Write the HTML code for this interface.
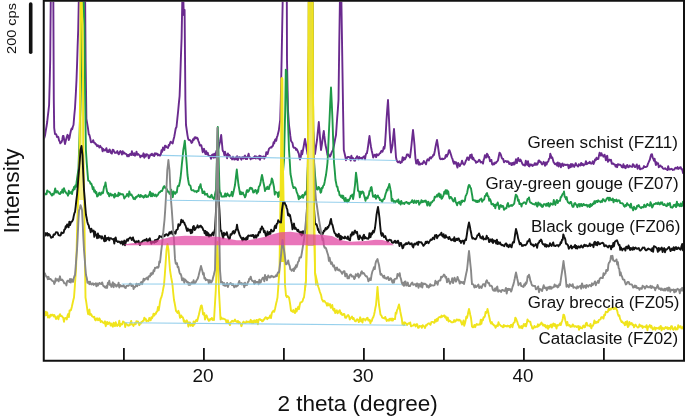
<!DOCTYPE html>
<html><head><meta charset="utf-8"><style>html,body{margin:0;padding:0;background:#fff;}svg{display:block;will-change:transform;}</style></head><body>
<svg width="685" height="416" viewBox="0 0 685 416">
<rect width="685" height="416" fill="#fff"/>
<defs><clipPath id="c"><rect x="44.7" y="1.8" width="638.3" height="358"/></clipPath></defs>
<g clip-path="url(#c)" fill="none" stroke-linejoin="round" stroke-linecap="round">
<polygon points="78,200 79.6,150 80.3,60 80.6,0 81.6,0 82.5,24 83,80 83.4,150 84.2,200" fill="#f6f08c" stroke="none"/>
<path d="M43.5,138.8 L44.2,138.3 L45.0,135.5 L45.7,131.0 L46.5,126.5 L47.2,122.0 L47.8,116.3 L48.5,110.7 L49.1,105.0 L49.7,82.5 L50.2,60.0 L50.8,-5.0 L51.4,-5.0 L52.0,-5.0 L52.7,-5.0 L53.3,-5.0 L53.8,100.0 L54.2,128.0 L55.0,134.1 L55.7,133.9 L56.3,134.5 L57.0,137.0 L57.7,136.6 L58.3,137.0 L59.0,140.3 L59.7,141.5 L60.3,143.4 L61.0,142.7 L61.6,142.0 L62.2,139.9 L62.9,135.9 L63.5,136.0 L64.2,140.0 L65.0,144.0 L65.6,141.5 L66.2,139.0 L66.9,136.5 L67.5,134.8 L68.2,135.8 L68.8,140.0 L69.5,138.0 L70.2,134.0 L71.0,130.3 L71.6,128.5 L72.2,129.2 L72.9,126.5 L73.5,125.0 L74.2,116.5 L75.0,108.0 L75.8,94.0 L76.5,80.0 L77.1,63.3 L77.6,46.7 L78.2,30.0 L78.9,-5.0 L79.7,-5.0 L80.5,-5.0 L81.2,-5.0 L82.0,-5.0 L82.8,-5.0 L83.5,-5.0 L84.3,-5.0 L85.1,-5.0 L85.6,60.0 L86.0,89.5 L86.4,119.0 L87.2,123.7 L88.0,128.3 L88.8,134.3 L89.5,135.2 L90.3,138.6 L91.0,142.4 L91.8,142.2 L92.5,141.7 L93.2,140.2 L94.0,142.6 L94.8,142.8 L95.6,144.3 L96.3,144.3 L97.1,146.2 L97.9,145.3 L98.7,146.3 L99.4,147.6 L100.2,145.8 L101.0,147.4 L101.8,147.6 L102.6,151.4 L103.3,148.9 L104.1,150.2 L104.9,150.5 L105.7,149.6 L106.4,148.2 L107.2,152.0 L108.0,150.4 L108.8,152.1 L109.6,149.4 L110.3,150.7 L111.1,153.2 L111.9,153.6 L112.7,149.8 L113.4,149.9 L114.2,151.8 L115.0,153.0 L115.8,152.4 L116.5,152.7 L117.3,151.1 L118.1,153.4 L118.8,154.3 L119.6,152.3 L120.4,151.1 L121.2,152.2 L121.9,154.5 L122.7,151.1 L123.5,153.6 L124.2,152.5 L125.0,153.8 L125.8,153.7 L126.5,154.2 L127.3,156.3 L128.1,154.9 L128.8,156.3 L129.6,154.3 L130.4,153.9 L131.2,155.1 L131.9,151.1 L132.7,154.7 L133.5,155.1 L134.2,153.2 L135.0,155.7 L135.8,154.3 L136.5,151.7 L137.3,154.9 L138.1,153.9 L138.8,154.7 L139.6,155.2 L140.4,157.3 L141.2,155.8 L141.9,155.7 L142.7,156.3 L143.5,153.3 L144.2,157.7 L145.0,154.5 L145.8,156.5 L146.5,154.3 L147.3,154.4 L148.1,155.1 L148.8,158.3 L149.6,156.5 L150.4,154.6 L151.2,155.0 L151.9,153.7 L152.7,155.2 L153.5,154.4 L154.2,156.1 L155.0,153.1 L155.7,154.4 L156.4,153.5 L157.1,153.6 L157.9,155.4 L158.6,154.5 L159.3,155.0 L160.0,155.7 L160.8,154.6 L161.5,150.1 L162.2,151.8 L163.0,147.5 L163.7,148.6 L164.3,150.0 L165.0,145.7 L165.8,146.0 L166.5,147.2 L167.2,147.5 L168.0,148.0 L168.7,144.9 L169.3,145.5 L170.0,143.2 L170.7,141.7 L171.3,142.4 L172.0,142.9 L172.7,143.4 L173.5,139.5 L174.2,137.0 L175.0,132.6 L175.7,128.5 L176.5,127.0 L177.3,119.2 L178.1,111.5 L178.8,103.8 L179.6,96.0 L180.3,76.7 L180.9,57.3 L181.6,38.0 L182.0,16.5 L182.4,-5.0 L183.2,-5.0 L183.8,15.0 L184.6,10.0 L185.0,55.0 L185.4,100.0 L186.0,125.0 L186.8,130.5 L187.5,135.3 L188.1,138.7 L188.8,139.9 L189.4,140.0 L190.0,140.2 L190.8,141.2 L191.5,142.9 L192.3,142.3 L193.0,139.2 L193.8,139.9 L194.6,137.4 L195.4,137.2 L196.1,138.5 L196.9,137.6 L197.7,138.4 L198.4,141.0 L199.1,142.7 L199.9,145.6 L200.6,145.2 L201.3,145.3 L202.0,148.4 L202.7,152.2 L203.3,149.9 L204.0,148.7 L204.7,151.5 L205.4,154.0 L206.2,151.1 L207.0,154.3 L207.8,152.9 L208.6,156.1 L209.4,156.0 L210.2,155.9 L211.0,158.8 L211.8,155.1 L212.6,154.4 L213.4,157.7 L214.2,153.6 L215.0,157.6 L215.8,153.3 L216.5,150.8 L217.2,151.1 L218.0,150.0 L218.7,147.3 L219.3,144.7 L220.0,142.0 L220.6,138.5 L221.2,135.0 L221.9,142.5 L222.6,150.2 L223.2,151.5 L223.8,152.2 L224.4,155.3 L225.0,151.8 L225.7,154.5 L226.4,155.2 L227.1,158.4 L227.9,153.4 L228.6,156.0 L229.3,155.1 L230.0,156.1 L230.7,158.0 L231.4,157.9 L232.1,159.4 L232.9,156.7 L233.6,158.1 L234.3,159.5 L235.0,159.3 L235.7,157.4 L236.4,159.3 L237.1,156.3 L237.9,160.0 L238.6,157.5 L239.3,157.0 L240.0,157.4 L240.7,158.3 L241.4,159.7 L242.1,157.2 L242.9,157.1 L243.6,158.5 L244.3,156.6 L245.0,155.6 L245.7,159.0 L246.4,157.2 L247.1,159.1 L247.9,156.0 L248.6,153.7 L249.3,157.5 L250.0,157.2 L250.7,159.4 L251.4,158.0 L252.1,157.9 L252.9,158.4 L253.6,157.2 L254.3,158.0 L255.0,156.1 L255.7,158.6 L256.4,156.6 L257.1,156.9 L257.9,158.4 L258.6,158.6 L259.3,155.7 L260.0,159.8 L260.7,156.0 L261.4,157.9 L262.1,157.9 L262.9,156.7 L263.6,156.5 L264.3,158.7 L265.0,157.2 L265.7,156.0 L266.3,152.1 L267.0,153.0 L267.6,154.1 L268.3,151.3 L269.1,148.6 L269.9,147.9 L270.7,147.3 L271.5,147.6 L272.3,146.1 L272.9,145.8 L273.6,142.2 L274.2,143.5 L274.9,140.3 L275.5,139.3 L276.2,140.8 L276.9,137.2 L277.5,135.8 L278.1,133.2 L278.8,130.5 L279.5,125.2 L280.2,120.0 L280.8,100.0 L281.2,80.0 L281.6,60.0 L282.2,27.5 L282.8,-5.0 L283.6,-5.0 L284.4,-5.0 L285.2,-5.0 L286.0,-5.0 L286.8,-5.0 L287.0,60.0 L287.5,85.0 L288.0,110.0 L288.5,117.5 L289.0,125.0 L289.7,130.3 L290.3,135.7 L291.0,140.8 L291.8,142.0 L292.5,143.0 L293.2,146.9 L294.0,147.9 L294.7,147.8 L295.4,147.9 L296.1,149.9 L296.8,149.1 L297.5,150.6 L298.1,152.3 L298.8,153.6 L299.4,157.6 L300.0,159.5 L300.8,157.1 L301.5,150.8 L302.2,154.3 L303.0,150.0 L303.7,146.3 L304.3,142.7 L305.0,139.0 L305.6,142.8 L306.2,146.5 L306.9,150.2 L307.5,154.0 L307.9,142.0 L308.3,130.0 L308.8,62.5 L309.3,-5.0 L310.0,-5.0 L310.8,-5.0 L311.5,-5.0 L312.2,-5.0 L312.6,62.5 L313.0,130.0 L313.7,138.0 L314.3,146.0 L315.0,154.0 L315.7,149.3 L316.3,144.7 L317.0,140.0 L317.6,134.0 L318.2,128.0 L318.8,122.0 L319.5,131.0 L320.2,140.0 L320.6,145.0 L321.0,150.0 L321.8,145.0 L322.5,140.0 L323.1,135.5 L323.8,131.0 L324.3,135.7 L324.9,140.3 L325.5,145.0 L326.2,148.0 L326.8,151.0 L327.5,155.0 L328.1,153.6 L328.8,154.5 L329.4,156.3 L330.0,156.6 L330.8,154.9 L331.5,152.7 L332.2,151.3 L333.0,150.0 L333.8,146.2 L334.5,142.5 L335.2,138.8 L336.0,135.0 L336.6,126.2 L337.2,117.5 L337.9,108.8 L338.5,100.0 L339.2,47.5 L340.0,-5.0 L340.6,-5.0 L341.3,-5.0 L341.9,33.8 L342.5,72.5 L343.1,111.2 L343.8,150.0 L344.5,153.0 L345.2,156.0 L346.0,160.2 L346.8,158.5 L347.6,156.9 L348.4,156.9 L349.2,157.2 L350.0,157.5 L350.7,160.5 L351.4,155.7 L352.1,158.5 L352.9,158.0 L353.6,158.8 L354.3,160.6 L355.0,160.7 L355.7,158.5 L356.4,157.6 L357.1,156.2 L357.9,157.8 L358.6,159.3 L359.3,156.9 L360.0,158.0 L360.7,158.1 L361.4,157.8 L362.1,158.9 L362.9,157.4 L363.6,156.6 L364.3,156.2 L365.0,159.3 L365.6,155.5 L366.2,153.6 L366.9,153.2 L367.5,150.0 L368.2,145.3 L368.8,140.7 L369.5,136.0 L370.2,141.5 L371.0,147.0 L371.8,151.0 L372.5,153.9 L373.2,157.6 L373.9,156.2 L374.6,154.7 L375.4,154.7 L376.1,157.2 L376.8,154.2 L377.5,155.1 L378.2,155.2 L378.9,154.6 L379.6,153.4 L380.4,153.1 L381.1,151.2 L381.8,150.7 L382.5,151.8 L383.1,149.7 L383.8,146.9 L384.4,148.7 L385.0,145.0 L385.8,132.5 L386.5,120.0 L387.2,110.0 L388.0,100.0 L388.8,115.0 L389.5,130.0 L390.2,141.2 L391.0,152.5 L391.8,148.8 L392.5,145.0 L393.2,137.0 L394.0,129.0 L394.8,139.5 L395.5,150.0 L396.0,157.2 L396.7,160.5 L397.4,161.6 L398.1,162.4 L398.9,161.6 L399.6,161.2 L400.3,163.0 L401.0,162.2 L401.8,162.3 L402.6,157.1 L403.4,160.3 L404.2,157.8 L405.0,159.3 L405.6,158.0 L406.2,157.0 L406.9,154.4 L407.5,154.6 L408.1,154.4 L408.8,156.1 L409.4,156.4 L410.0,157.5 L410.8,151.2 L411.5,145.0 L412.2,137.5 L413.0,130.0 L413.8,137.5 L414.5,145.0 L415.0,152.5 L415.5,158.8 L416.2,163.6 L417.0,162.7 L417.8,159.6 L418.5,164.6 L419.2,162.2 L420.0,164.7 L420.8,163.8 L421.5,163.5 L422.2,164.1 L423.0,162.9 L423.8,161.0 L424.5,162.6 L425.2,162.7 L426.0,164.3 L426.8,160.8 L427.5,159.3 L428.2,159.8 L428.9,160.6 L429.7,157.8 L430.4,157.3 L431.1,158.4 L431.8,157.0 L432.6,156.6 L433.3,154.8 L434.0,155.0 L434.8,151.0 L435.5,147.0 L436.2,143.5 L437.0,140.0 L437.8,145.0 L438.5,150.0 L439.2,155.0 L440.0,158.8 L440.7,159.2 L441.4,159.1 L442.1,158.5 L442.9,159.2 L443.6,159.0 L444.3,158.6 L445.0,158.2 L445.6,155.6 L446.2,154.7 L446.9,156.7 L447.5,155.0 L448.2,153.7 L448.8,150.4 L449.5,150.2 L450.2,152.4 L451.0,154.8 L451.8,157.6 L452.5,158.9 L453.2,161.7 L453.9,163.8 L454.6,161.7 L455.4,163.4 L456.1,162.3 L456.8,165.4 L457.5,167.6 L458.2,163.0 L459.0,164.2 L459.8,166.2 L460.5,164.5 L461.2,163.9 L462.0,160.6 L462.8,163.0 L463.5,164.3 L464.2,164.8 L465.0,163.4 L465.8,160.9 L466.5,159.9 L467.2,157.5 L468.0,157.7 L468.8,160.0 L469.5,157.5 L470.2,154.9 L471.0,157.8 L471.7,154.4 L472.4,159.2 L473.2,157.7 L473.9,159.4 L474.6,160.6 L475.3,160.7 L476.1,162.8 L476.8,161.8 L477.5,162.0 L478.3,161.2 L479.1,159.8 L479.9,160.5 L480.6,162.4 L481.4,161.9 L482.2,162.3 L483.0,163.6 L483.6,160.0 L484.2,158.7 L484.9,155.2 L485.5,155.7 L486.2,157.6 L487.0,153.7 L487.8,154.8 L488.5,157.4 L489.2,157.1 L490.0,161.3 L490.7,160.9 L491.4,159.9 L492.1,164.2 L492.9,164.7 L493.6,163.3 L494.3,164.3 L495.0,162.6 L495.8,163.1 L496.5,162.1 L497.2,161.6 L498.0,160.2 L498.8,156.2 L499.5,152.8 L500.2,153.3 L501.0,155.2 L501.8,157.9 L502.5,158.8 L503.2,159.0 L504.0,162.3 L504.8,161.4 L505.5,161.0 L506.2,161.2 L507.0,162.1 L507.8,161.2 L508.5,161.6 L509.2,164.0 L510.0,163.2 L510.8,163.3 L511.5,165.1 L512.2,162.9 L513.0,164.7 L513.8,162.5 L514.5,164.4 L515.2,162.6 L516.0,159.2 L516.8,163.1 L517.5,160.8 L518.2,158.0 L519.0,160.7 L519.8,161.2 L520.5,159.6 L521.2,161.0 L522.0,163.0 L522.8,164.7 L523.5,164.7 L524.2,165.3 L525.0,165.6 L525.8,160.7 L526.5,163.4 L527.2,164.9 L528.0,161.2 L528.8,166.1 L529.5,166.4 L530.2,164.3 L531.0,165.1 L531.8,164.5 L532.5,166.0 L533.2,165.4 L534.0,165.0 L534.8,163.2 L535.5,164.8 L536.2,163.4 L537.0,164.8 L537.8,163.6 L538.5,160.7 L539.2,160.4 L540.0,162.1 L540.7,161.7 L541.4,163.5 L542.1,164.4 L542.9,163.7 L543.6,161.8 L544.3,162.9 L545.0,165.8 L545.8,162.5 L546.6,164.6 L547.4,161.9 L548.2,161.7 L549.0,158.8 L549.7,158.5 L550.3,153.7 L551.0,155.7 L551.7,158.1 L552.3,157.4 L553.0,160.0 L553.5,162.0 L554.0,162.8 L554.8,164.1 L555.5,164.4 L556.3,163.3 L557.1,165.6 L557.8,162.5 L558.6,166.5 L559.4,163.1 L560.2,164.1 L560.9,167.2 L561.7,164.1 L562.5,163.4 L563.2,166.0 L564.0,164.7 L564.8,164.4 L565.6,165.0 L566.3,165.0 L567.1,164.6 L567.9,164.6 L568.7,168.3 L569.5,165.1 L570.2,167.4 L571.0,164.0 L571.8,166.8 L572.6,164.2 L573.4,165.4 L574.2,166.9 L574.9,165.3 L575.7,163.2 L576.5,165.2 L577.3,165.7 L578.1,166.6 L578.8,164.2 L579.6,165.1 L580.4,165.5 L581.2,162.9 L582.0,165.0 L582.8,163.8 L583.5,165.5 L584.3,164.6 L585.1,164.4 L585.9,161.1 L586.7,164.2 L587.4,163.7 L588.2,162.8 L589.0,163.3 L589.8,161.8 L590.5,163.4 L591.2,163.7 L592.0,163.2 L592.8,161.3 L593.5,164.0 L594.2,162.4 L595.0,159.5 L595.8,160.2 L596.5,157.7 L597.1,158.8 L597.8,159.0 L598.4,158.8 L599.0,155.4 L599.6,152.7 L600.2,154.3 L600.9,155.7 L601.5,153.2 L602.1,155.3 L602.8,155.2 L603.4,156.7 L604.0,155.8 L604.6,154.7 L605.2,156.9 L605.9,160.4 L606.5,156.8 L607.2,155.7 L608.0,161.9 L608.8,160.3 L609.5,159.6 L610.2,160.4 L611.0,159.8 L611.8,163.7 L612.5,163.7 L613.2,163.4 L614.0,164.4 L614.8,164.5 L615.6,166.6 L616.3,164.9 L617.1,167.2 L617.9,164.1 L618.7,164.5 L619.5,164.8 L620.2,164.7 L621.0,165.4 L621.8,167.1 L622.6,167.4 L623.4,164.2 L624.2,167.6 L624.9,166.0 L625.7,168.2 L626.5,165.8 L627.3,164.9 L628.1,167.2 L628.9,167.1 L629.7,165.6 L630.5,166.4 L631.3,166.6 L632.1,166.9 L632.9,164.1 L633.7,164.9 L634.5,166.8 L635.2,167.1 L636.0,166.1 L636.8,164.4 L637.6,168.8 L638.4,166.6 L639.2,165.6 L640.0,169.4 L640.8,168.8 L641.6,168.7 L642.4,168.5 L643.2,168.2 L644.0,166.1 L644.8,167.0 L645.6,167.0 L646.4,166.9 L647.2,166.2 L648.0,163.6 L648.6,162.4 L649.2,161.0 L649.9,159.5 L650.5,156.8 L651.2,154.4 L652.0,154.3 L652.7,157.8 L653.3,158.7 L654.0,160.8 L654.6,158.6 L655.2,161.9 L655.9,165.0 L656.5,162.3 L657.3,163.7 L658.1,163.2 L658.8,167.4 L659.6,166.0 L660.4,165.4 L661.2,166.7 L662.0,166.6 L662.8,168.3 L663.5,168.9 L664.3,168.8 L665.1,168.2 L665.9,169.1 L666.7,169.4 L667.4,170.1 L668.2,166.2 L669.0,169.5 L669.8,169.2 L670.6,169.3 L671.3,168.8 L672.1,169.1 L672.9,170.0 L673.7,169.6 L674.4,169.6 L675.2,167.9 L676.0,167.7 L676.8,168.5 L677.6,167.1 L678.3,168.9 L679.1,168.5 L679.9,167.3 L680.7,167.1 L681.4,169.2 L682.2,169.1 L683.0,173.0" stroke="#6a2a8e" stroke-width="1.9"/>
<path d="M43.5,198.3 L44.2,193.6 L45.0,194.6 L45.8,193.7 L46.5,194.2 L47.2,190.5 L48.0,191.4 L48.8,191.7 L49.6,192.1 L50.4,193.2 L51.2,194.5 L52.0,195.6 L52.8,193.7 L53.6,194.6 L54.4,192.2 L55.2,188.4 L56.0,192.7 L56.8,191.1 L57.6,191.2 L58.4,193.2 L59.2,193.7 L60.0,194.1 L60.8,192.0 L61.6,192.7 L62.4,189.4 L63.2,192.8 L64.0,188.2 L64.8,190.7 L65.6,192.0 L66.4,193.3 L67.2,193.7 L68.0,195.7 L68.8,190.8 L69.6,193.5 L70.4,192.8 L71.2,191.8 L72.0,194.0 L72.7,189.8 L73.3,190.4 L74.0,187.0 L74.7,189.2 L75.3,185.5 L76.0,187.0 L76.6,182.2 L77.2,177.5 L77.9,172.8 L78.5,168.0 L79.1,148.7 L79.7,129.3 L80.3,110.0 L80.9,83.3 L81.4,56.7 L82.0,30.0 L82.6,-5.0 L83.1,-5.0 L83.6,-5.0 L84.3,24.0 L84.8,62.0 L85.2,100.0 L85.9,150.0 L86.7,162.5 L87.5,172.6 L88.2,180.6 L89.0,180.8 L89.8,181.7 L90.5,183.8 L91.2,183.4 L92.0,185.8 L92.8,189.3 L93.5,187.1 L94.2,191.8 L95.0,190.4 L95.7,193.4 L96.4,192.1 L97.1,196.6 L97.9,196.0 L98.6,194.2 L99.3,192.7 L100.0,194.7 L100.8,194.7 L101.5,192.4 L102.2,193.2 L103.0,193.2 L103.6,189.4 L104.2,186.4 L104.9,185.8 L105.5,182.5 L106.2,187.2 L107.0,191.4 L107.8,193.8 L108.5,192.9 L109.2,196.4 L110.0,194.4 L110.7,193.6 L111.4,195.5 L112.1,194.8 L112.9,194.6 L113.6,196.1 L114.3,197.6 L115.0,193.7 L115.7,196.3 L116.4,195.7 L117.1,195.3 L117.9,196.2 L118.6,192.8 L119.3,195.2 L120.0,193.5 L120.7,194.3 L121.4,194.1 L122.1,194.2 L122.9,194.2 L123.6,195.8 L124.3,198.5 L125.0,197.3 L125.7,196.6 L126.4,195.8 L127.1,193.9 L127.9,195.0 L128.6,196.7 L129.3,191.5 L130.0,194.0 L130.7,194.9 L131.4,194.4 L132.1,195.7 L132.9,197.1 L133.6,198.9 L134.3,198.2 L135.0,199.2 L135.7,197.1 L136.4,197.5 L137.1,196.3 L137.9,196.2 L138.6,194.8 L139.3,196.2 L140.0,197.0 L140.7,195.0 L141.4,195.8 L142.1,196.7 L142.9,196.1 L143.6,197.7 L144.3,197.0 L145.0,195.3 L145.7,195.0 L146.4,197.1 L147.1,196.5 L147.9,196.8 L148.6,195.2 L149.3,194.7 L150.0,191.7 L150.7,196.2 L151.4,193.2 L152.1,196.3 L152.9,193.5 L153.6,194.4 L154.3,195.9 L155.0,195.4 L155.7,194.5 L156.4,196.4 L157.1,195.6 L157.9,194.8 L158.6,193.3 L159.3,192.2 L160.0,192.3 L160.7,191.2 L161.4,190.9 L162.1,191.0 L162.9,188.7 L163.6,186.9 L164.3,186.1 L165.0,187.8 L165.8,187.5 L166.5,188.8 L167.2,190.1 L168.0,191.8 L168.8,191.8 L169.6,193.8 L170.4,193.9 L171.2,189.8 L172.0,193.8 L172.8,197.2 L173.6,191.4 L174.4,193.0 L175.2,193.9 L176.0,192.0 L176.8,192.4 L177.5,187.2 L178.2,185.7 L179.0,186.0 L179.8,182.0 L180.5,178.0 L181.2,171.5 L181.8,165.0 L182.6,157.5 L183.3,150.0 L184.1,145.3 L184.8,140.6 L185.4,147.8 L186.0,155.0 L186.8,165.0 L187.5,175.0 L188.2,180.0 L189.0,184.7 L189.8,185.2 L190.5,186.0 L191.2,189.5 L192.0,190.4 L192.8,190.4 L193.6,190.2 L194.4,191.6 L195.2,191.4 L196.0,191.0 L196.6,192.2 L197.2,191.5 L197.9,190.6 L198.5,191.0 L199.2,186.7 L199.9,186.3 L200.6,184.1 L201.2,188.4 L201.9,189.0 L202.5,193.0 L203.1,193.2 L203.8,191.5 L204.4,191.5 L205.0,194.7 L205.7,194.0 L206.4,194.6 L207.1,193.8 L207.9,196.6 L208.6,196.4 L209.3,197.1 L210.0,197.4 L210.8,196.1 L211.6,194.7 L212.4,197.8 L213.2,197.7 L214.0,199.0 L214.7,196.0 L215.3,193.0 L216.0,190.0 L216.6,169.0 L217.2,148.0 L217.8,127.0 L218.4,148.0 L218.9,169.0 L219.5,189.3 L220.1,192.8 L220.8,192.9 L221.4,196.6 L222.0,196.3 L222.8,196.8 L223.6,196.3 L224.4,196.5 L225.2,193.4 L226.0,196.5 L226.7,195.0 L227.4,193.4 L228.2,195.5 L228.9,195.0 L229.6,196.2 L230.3,195.4 L231.1,194.7 L231.8,191.8 L232.5,196.3 L233.1,193.8 L233.8,190.6 L234.4,187.9 L235.0,185.0 L235.6,179.8 L236.2,174.7 L236.8,169.5 L237.3,174.7 L237.9,179.8 L238.5,185.0 L239.2,188.8 L240.0,194.2 L240.7,191.6 L241.4,194.2 L242.1,193.6 L242.9,192.5 L243.6,194.8 L244.3,195.1 L245.0,197.4 L245.8,195.6 L246.5,191.3 L247.2,190.0 L248.0,191.9 L248.8,191.0 L249.5,189.2 L250.2,187.7 L251.0,188.7 L251.8,188.1 L252.5,189.5 L253.2,192.5 L254.0,192.3 L254.7,190.7 L255.4,190.0 L256.1,191.1 L256.8,193.6 L257.5,190.3 L258.1,191.9 L258.8,186.9 L259.4,186.2 L260.0,185.0 L260.7,181.7 L261.3,178.3 L262.0,175.0 L262.7,178.3 L263.3,181.7 L264.0,185.0 L264.5,187.5 L265.0,191.0 L265.8,188.4 L266.6,189.1 L267.4,186.6 L268.2,188.9 L269.0,189.1 L269.7,185.1 L270.4,184.8 L271.1,182.4 L271.8,178.5 L272.5,180.0 L273.3,183.7 L274.0,187.3 L274.8,194.6 L275.4,191.9 L276.0,192.2 L276.7,192.5 L277.4,193.1 L278.2,197.1 L278.9,192.2 L279.6,195.7 L280.4,192.1 L281.2,188.6 L282.0,185.0 L282.7,176.7 L283.3,168.3 L284.0,160.0 L284.6,135.0 L285.2,110.0 L285.8,69.6 L286.2,70.4 L286.6,72.0 L287.1,91.0 L287.6,110.0 L288.3,130.0 L289.0,150.0 L289.8,162.0 L290.5,174.0 L291.3,178.0 L292.0,182.0 L292.8,185.7 L293.6,188.1 L294.4,187.2 L295.1,187.4 L295.9,188.8 L296.7,192.1 L297.5,193.8 L298.1,195.9 L298.8,199.2 L299.5,196.1 L300.3,198.0 L301.0,197.4 L301.8,196.0 L302.5,194.9 L303.1,197.7 L303.6,196.0 L304.4,194.9 L305.2,192.3 L306.0,194.4 L306.5,190.9 L307.0,190.0 L307.6,175.0 L308.2,160.0 L308.8,77.5 L309.3,-5.0 L310.0,-5.0 L310.8,-5.0 L311.5,-5.0 L312.2,-5.0 L312.6,72.5 L313.0,150.0 L313.8,159.0 L314.5,168.0 L315.2,177.0 L316.0,185.3 L316.5,187.5 L317.0,189.4 L317.8,189.6 L318.5,187.0 L319.2,187.5 L320.0,189.0 L320.5,192.7 L321.2,192.1 L321.9,187.8 L322.6,188.0 L323.3,185.6 L324.0,185.0 L324.7,181.7 L325.3,178.3 L326.0,175.0 L326.8,168.8 L327.5,162.5 L328.2,148.3 L328.8,134.2 L329.5,120.0 L330.2,103.8 L331.0,87.5 L331.8,103.8 L332.5,120.0 L333.2,141.2 L334.0,162.5 L334.8,171.2 L335.5,180.0 L336.2,183.3 L336.8,186.7 L337.5,186.8 L338.2,191.0 L338.9,191.3 L339.6,195.4 L340.3,195.3 L341.0,196.9 L341.8,195.4 L342.5,198.2 L343.2,195.8 L344.0,199.3 L344.8,201.3 L345.6,197.9 L346.4,201.2 L347.2,202.3 L347.9,199.7 L348.6,201.1 L349.4,199.3 L350.1,198.2 L350.8,195.7 L351.6,196.1 L352.3,194.6 L353.1,199.1 L353.8,194.9 L354.4,189.9 L355.0,185.0 L355.5,178.8 L356.0,172.6 L356.5,176.3 L357.0,180.0 L357.5,185.0 L358.0,190.4 L358.6,191.4 L359.2,191.4 L359.8,197.3 L360.6,191.6 L361.4,193.7 L362.2,191.5 L362.8,191.7 L363.4,192.3 L364.0,194.9 L364.8,197.9 L365.5,200.9 L366.2,197.5 L366.9,198.6 L367.6,198.4 L368.2,195.9 L368.9,194.8 L369.5,191.0 L370.2,191.0 L370.8,187.6 L371.5,187.0 L372.2,191.4 L373.0,196.7 L373.7,196.1 L374.5,196.9 L375.2,195.0 L376.0,198.7 L376.6,196.9 L377.2,195.9 L377.9,195.5 L378.5,197.5 L379.2,197.6 L380.0,200.1 L380.8,199.7 L381.5,200.9 L382.2,202.0 L382.9,200.0 L383.6,199.0 L384.3,199.0 L385.0,196.2 L385.7,193.5 L386.3,192.1 L386.9,189.4 L387.5,190.5 L388.1,187.4 L388.7,186.7 L389.3,184.0 L389.9,186.7 L390.4,189.3 L391.0,192.0 L391.7,200.9 L392.4,198.8 L393.1,200.5 L393.9,202.3 L394.6,201.0 L395.3,202.4 L396.1,201.1 L396.8,200.4 L397.5,201.7 L398.3,199.5 L399.0,203.3 L399.8,201.7 L400.6,204.5 L401.3,201.0 L402.1,203.1 L402.9,203.6 L403.7,202.9 L404.4,203.9 L405.2,202.5 L406.0,202.2 L406.7,201.9 L407.5,203.2 L408.3,202.7 L409.1,204.0 L409.8,202.9 L410.6,202.3 L411.4,202.0 L412.2,200.2 L413.0,202.2 L413.8,203.1 L414.5,200.4 L415.3,201.8 L416.1,202.9 L416.9,200.8 L417.7,201.8 L418.4,200.8 L419.2,204.7 L420.0,203.0 L420.7,202.8 L421.4,200.2 L422.2,202.2 L422.9,201.1 L423.6,201.9 L424.4,200.7 L425.1,201.8 L425.8,200.6 L426.6,202.8 L427.3,205.5 L428.1,201.7 L428.8,202.5 L429.6,205.7 L430.3,205.1 L431.1,202.3 L431.8,202.6 L432.5,201.4 L433.2,200.5 L433.9,200.6 L434.7,196.6 L435.4,197.4 L436.2,196.6 L436.9,195.1 L437.7,196.6 L438.4,193.9 L439.2,193.4 L440.0,197.3 L440.7,194.5 L441.5,198.8 L442.2,198.2 L443.0,196.3 L443.7,194.6 L444.3,191.6 L445.0,193.6 L445.6,190.3 L446.3,193.7 L446.9,190.2 L447.6,193.8 L448.2,191.3 L448.8,195.5 L449.6,198.6 L450.4,196.9 L451.1,197.1 L451.9,198.4 L452.7,200.3 L453.4,201.4 L454.1,200.2 L454.9,198.0 L455.6,201.7 L456.3,203.0 L457.1,205.3 L457.8,202.6 L458.5,202.9 L459.2,201.8 L459.9,203.5 L460.6,204.8 L461.4,200.8 L462.1,202.2 L462.8,200.5 L463.5,200.8 L464.2,201.4 L464.9,200.2 L465.6,196.1 L466.4,194.7 L467.1,193.0 L467.7,189.7 L468.4,186.3 L469.0,184.9 L469.7,185.5 L470.3,187.5 L471.0,188.3 L471.6,192.1 L472.3,196.0 L472.9,200.4 L473.6,199.7 L474.3,200.7 L475.0,201.0 L475.6,200.4 L476.3,202.0 L477.0,200.7 L477.7,202.1 L478.4,200.7 L479.1,201.6 L479.9,199.5 L480.6,199.5 L481.3,198.5 L482.1,201.8 L482.8,200.6 L483.5,200.1 L484.2,199.4 L484.9,196.0 L485.6,196.0 L486.3,193.9 L487.0,193.0 L487.8,196.3 L488.5,196.5 L489.2,200.8 L490.0,199.1 L490.7,200.6 L491.5,204.3 L492.2,204.2 L493.0,203.7 L493.8,206.0 L494.6,204.7 L495.3,208.3 L496.1,204.4 L496.9,205.0 L497.7,202.5 L498.5,205.3 L499.2,209.0 L500.0,206.2 L500.8,205.1 L501.6,206.8 L502.4,205.9 L503.2,206.2 L504.0,209.8 L504.8,209.0 L505.6,208.3 L506.4,208.4 L507.2,204.6 L508.0,203.0 L508.8,206.8 L509.6,206.2 L510.4,205.7 L511.2,205.0 L511.9,205.9 L512.7,205.3 L513.4,204.4 L514.2,203.7 L515.0,198.8 L515.8,194.7 L516.5,195.3 L517.3,196.7 L518.0,200.8 L518.7,199.7 L519.4,204.1 L520.1,203.4 L520.8,203.8 L521.5,206.6 L522.2,203.6 L523.0,203.4 L523.8,202.5 L524.5,202.3 L525.2,202.6 L526.0,204.0 L526.8,201.5 L527.5,199.0 L528.2,199.1 L529.0,197.4 L529.8,201.8 L530.5,202.8 L531.2,202.7 L532.0,203.5 L532.8,204.0 L533.6,204.1 L534.3,204.6 L535.1,204.2 L535.9,202.7 L536.7,205.7 L537.4,206.5 L538.2,202.4 L539.0,204.7 L539.8,203.4 L540.6,205.7 L541.3,204.6 L542.1,207.0 L542.9,206.6 L543.7,204.3 L544.5,204.3 L545.2,204.2 L546.0,205.8 L546.8,203.7 L547.6,205.6 L548.4,203.0 L549.2,206.5 L549.9,205.7 L550.7,203.3 L551.5,203.9 L552.3,204.7 L553.0,204.5 L553.8,200.0 L554.6,203.5 L555.4,204.9 L556.1,201.6 L556.9,199.9 L557.7,203.1 L558.5,201.2 L559.2,200.7 L560.0,200.9 L560.7,197.2 L561.3,197.0 L562.0,195.4 L562.7,194.0 L563.3,193.9 L564.0,191.5 L564.7,197.0 L565.3,197.0 L566.0,199.2 L566.7,197.1 L567.3,200.7 L568.0,202.3 L568.8,202.9 L569.6,203.5 L570.4,201.9 L571.1,201.9 L571.9,204.8 L572.7,206.8 L573.5,206.7 L574.3,203.5 L575.1,203.0 L575.9,204.5 L576.6,205.1 L577.4,207.2 L578.2,204.5 L579.0,203.9 L579.8,206.6 L580.5,204.1 L581.3,204.0 L582.1,206.1 L582.8,205.1 L583.6,203.9 L584.4,205.2 L585.2,205.0 L585.9,205.4 L586.7,204.7 L587.5,206.7 L588.2,205.4 L589.0,205.1 L589.8,207.1 L590.5,203.9 L591.3,205.9 L592.1,205.3 L592.8,203.6 L593.6,204.0 L594.4,201.2 L595.2,203.3 L595.9,201.1 L596.7,200.9 L597.5,202.1 L598.2,200.3 L599.0,201.2 L599.8,201.4 L600.5,202.2 L601.3,201.1 L602.1,201.9 L602.8,199.2 L603.6,199.5 L604.4,200.8 L605.2,201.4 L605.9,200.2 L606.7,198.7 L607.5,197.8 L608.2,197.8 L609.0,200.6 L609.8,197.7 L610.5,198.9 L611.2,200.2 L612.0,200.0 L612.8,198.5 L613.5,202.4 L614.2,199.9 L615.0,200.2 L615.8,201.0 L616.5,199.5 L617.2,201.5 L618.0,200.8 L618.8,200.2 L619.5,200.6 L620.2,203.0 L621.0,203.1 L621.8,203.3 L622.5,203.3 L623.2,204.1 L624.0,206.1 L624.8,206.7 L625.5,205.0 L626.3,205.9 L627.1,203.1 L627.8,204.3 L628.6,205.2 L629.4,205.1 L630.2,207.5 L630.9,203.8 L631.7,207.6 L632.5,208.1 L633.2,210.4 L634.0,206.8 L634.8,208.0 L635.6,209.3 L636.4,208.4 L637.2,205.6 L637.9,206.3 L638.7,205.1 L639.5,206.7 L640.3,207.4 L641.1,208.2 L641.9,207.0 L642.7,207.3 L643.5,207.4 L644.3,204.6 L645.1,206.6 L645.8,206.9 L646.6,205.1 L647.4,203.9 L648.2,205.3 L649.0,205.2 L649.8,205.9 L650.5,202.3 L651.3,204.2 L652.1,207.5 L652.8,206.4 L653.6,204.3 L654.4,204.0 L655.2,204.0 L655.9,202.9 L656.7,203.6 L657.5,204.1 L658.2,202.4 L659.0,203.9 L659.8,204.5 L660.6,202.4 L661.3,203.7 L662.1,202.3 L662.9,204.7 L663.7,205.1 L664.5,204.1 L665.2,205.1 L666.0,205.9 L666.8,206.2 L667.6,203.5 L668.4,205.0 L669.2,203.6 L669.9,203.1 L670.7,207.3 L671.5,207.1 L672.3,207.7 L673.0,206.8 L673.8,204.9 L674.6,205.8 L675.3,204.6 L676.1,207.1 L676.9,201.7 L677.6,205.5 L678.4,204.0 L679.2,205.7 L679.9,206.2 L680.7,203.5 L681.5,206.2 L682.2,205.7 L683.0,201.8" stroke="#1f9a48" stroke-width="1.9"/>
<polygon points="280.2,262 281.1,150 281.4,79 282.4,79 282.7,150 284.4,262" fill="#f0e41c" stroke="none"/>
<path d="M43.5,312.3 L44.2,312.7 L45.0,315.6 L45.8,311.8 L46.5,315.1 L47.2,312.5 L48.0,317.5 L48.8,316.1 L49.6,317.5 L50.4,314.7 L51.2,315.8 L52.0,314.6 L52.8,314.6 L53.6,316.4 L54.4,315.0 L55.2,316.9 L56.0,319.0 L56.8,317.5 L57.6,316.2 L58.4,319.3 L59.2,315.7 L60.0,314.2 L60.8,316.0 L61.6,315.9 L62.4,316.9 L63.2,317.7 L64.0,321.8 L64.7,318.4 L65.4,318.0 L66.1,318.1 L66.8,319.4 L67.5,315.7 L68.2,313.9 L68.9,317.1 L69.6,310.4 L70.3,310.7 L71.0,310.0 L71.8,306.9 L72.5,303.8 L73.2,300.6 L74.0,297.5 L74.7,288.3 L75.3,279.2 L76.0,270.0 L76.7,246.7 L77.3,223.3 L78.0,200.0 L78.8,175.0 L79.6,150.0 L80.3,60.0 L80.6,-5.0 L81.1,-5.0 L81.6,-5.0 L82.0,9.5 L82.5,24.0 L83.0,80.0 L83.4,150.0 L84.2,200.0 L84.8,250.0 L85.5,297.5 L86.2,301.7 L86.8,305.8 L87.5,310.9 L88.1,314.2 L88.8,310.7 L89.4,309.6 L90.0,314.9 L90.7,313.8 L91.4,314.6 L92.1,316.4 L92.9,316.6 L93.6,317.3 L94.3,316.8 L95.0,319.8 L95.7,320.4 L96.4,318.6 L97.1,318.2 L97.9,320.2 L98.6,320.1 L99.3,318.3 L100.0,319.4 L100.7,322.0 L101.4,321.0 L102.1,321.3 L102.9,322.6 L103.6,322.8 L104.3,323.4 L105.0,321.3 L105.7,326.2 L106.4,323.7 L107.1,321.9 L107.9,324.2 L108.6,323.0 L109.3,322.3 L110.0,323.5 L110.7,325.6 L111.4,323.6 L112.1,325.5 L112.9,326.7 L113.6,322.7 L114.3,323.8 L115.0,326.1 L115.7,322.3 L116.4,324.1 L117.1,326.0 L117.9,325.3 L118.6,324.4 L119.3,320.6 L120.0,326.3 L120.8,324.0 L121.5,324.5 L122.2,324.3 L123.0,321.4 L123.8,322.0 L124.5,322.5 L125.2,327.1 L126.0,323.4 L126.8,324.5 L127.5,324.6 L128.2,325.7 L129.0,325.5 L129.8,325.1 L130.5,322.8 L131.2,320.9 L132.0,324.6 L132.8,324.7 L133.5,325.9 L134.2,324.0 L135.0,323.1 L135.7,324.3 L136.4,321.3 L137.1,321.7 L137.9,321.4 L138.6,323.0 L139.3,325.2 L140.0,323.1 L140.7,323.5 L141.4,322.0 L142.1,322.0 L142.9,320.8 L143.6,320.9 L144.3,317.7 L145.0,319.3 L145.7,318.8 L146.4,321.3 L147.1,320.6 L147.9,320.9 L148.6,321.0 L149.3,318.0 L150.0,319.5 L150.7,320.3 L151.4,317.1 L152.1,318.2 L152.9,316.1 L153.6,313.6 L154.3,315.6 L155.0,313.8 L155.8,313.9 L156.5,311.9 L157.2,311.7 L158.0,307.0 L158.7,310.4 L159.3,306.9 L160.0,302.0 L160.7,298.7 L161.3,297.5 L162.0,295.0 L162.7,291.7 L163.3,288.3 L164.0,285.0 L164.8,275.0 L165.5,265.0 L166.0,257.5 L166.5,250.0 L167.0,247.0 L167.5,244.0 L168.0,247.0 L168.5,250.0 L169.2,260.0 L170.0,270.0 L170.6,273.8 L171.2,277.5 L171.9,281.2 L172.5,285.0 L173.2,292.5 L174.0,300.0 L174.7,303.3 L175.3,306.7 L176.0,310.9 L176.8,311.8 L177.6,313.0 L178.4,310.8 L179.2,313.2 L180.0,317.9 L180.6,317.1 L181.2,315.4 L181.9,317.0 L182.5,317.0 L183.2,318.2 L183.9,321.9 L184.6,320.5 L185.3,323.0 L186.0,322.3 L186.8,320.3 L187.6,321.9 L188.4,326.5 L189.2,322.5 L190.0,322.5 L190.7,325.8 L191.4,324.1 L192.1,324.0 L192.9,326.1 L193.6,321.5 L194.3,324.6 L195.0,322.5 L195.8,320.5 L196.5,319.8 L197.2,321.1 L198.0,318.0 L198.8,315.0 L199.5,312.0 L200.2,309.0 L201.0,305.8 L201.7,305.4 L202.3,308.4 L203.0,314.2 L203.7,314.8 L204.3,313.1 L205.0,319.5 L205.8,316.0 L206.5,315.3 L207.2,317.3 L208.0,319.3 L208.8,320.8 L209.5,320.5 L210.2,318.9 L211.0,319.2 L211.8,317.9 L212.5,319.9 L213.2,319.1 L214.0,320.0 L214.6,310.0 L215.2,300.0 L215.8,290.0 L216.6,266.0 L217.4,242.0 L218.2,266.0 L218.9,290.0 L219.7,304.5 L220.5,319.4 L221.2,317.5 L222.0,318.9 L222.8,318.7 L223.5,318.6 L224.2,319.0 L225.0,319.5 L225.7,319.6 L226.4,322.4 L227.1,322.0 L227.9,320.3 L228.6,323.2 L229.3,323.1 L230.0,325.1 L230.7,322.3 L231.4,321.8 L232.1,320.7 L232.9,321.5 L233.6,321.6 L234.3,320.7 L235.0,319.6 L235.7,321.4 L236.4,321.3 L237.1,322.1 L237.9,320.9 L238.6,323.2 L239.3,322.0 L240.0,322.8 L240.7,323.8 L241.4,326.2 L242.1,324.1 L242.9,322.3 L243.6,321.6 L244.3,322.8 L245.0,323.0 L245.7,323.0 L246.4,321.3 L247.1,322.1 L247.9,321.7 L248.6,322.0 L249.3,321.5 L250.0,322.6 L250.7,319.8 L251.4,321.0 L252.1,323.2 L252.9,321.1 L253.6,323.1 L254.3,320.3 L255.0,321.5 L255.7,322.3 L256.4,319.9 L257.1,320.1 L257.9,324.4 L258.6,319.6 L259.3,319.3 L260.0,319.2 L260.7,320.0 L261.4,320.0 L262.1,321.4 L262.9,321.1 L263.6,319.4 L264.3,319.5 L265.0,318.0 L265.8,317.2 L266.5,317.7 L267.2,319.2 L268.0,317.7 L268.8,318.0 L269.5,317.6 L270.2,315.4 L271.0,318.0 L271.8,313.1 L272.6,311.7 L273.4,310.8 L274.2,311.8 L275.0,309.0 L275.6,306.1 L276.2,303.2 L276.9,300.4 L277.5,297.5 L278.2,288.3 L278.8,279.2 L279.5,270.0 L280.0,230.0 L280.6,190.0 L281.1,150.0 L281.4,78.8 L281.9,77.9 L282.4,79.0 L282.7,150.0 L283.5,195.0 L284.2,240.0 L285.0,285.0 L285.5,290.0 L286.0,295.6 L286.8,297.2 L287.5,296.1 L288.2,296.5 L289.0,297.5 L289.7,301.3 L290.3,305.2 L291.0,310.6 L291.8,311.1 L292.6,311.8 L293.4,310.0 L294.2,312.2 L295.0,313.0 L295.8,308.6 L296.6,311.6 L297.4,308.7 L298.2,306.8 L299.0,309.2 L299.7,305.0 L300.4,302.5 L301.1,302.3 L301.9,301.9 L302.6,301.1 L303.3,298.6 L304.0,297.5 L304.7,291.7 L305.3,285.8 L306.0,280.0 L306.8,240.0 L307.5,200.0 L308.1,131.7 L308.7,63.3 L309.3,-5.0 L310.0,-5.0 L310.8,-5.0 L311.5,-5.0 L312.2,-5.0 L312.8,63.3 L313.4,131.7 L314.0,200.0 L314.5,236.2 L315.0,272.5 L315.8,276.0 L316.6,279.5 L317.4,283.0 L318.2,286.5 L319.0,288.8 L319.7,291.2 L320.4,293.2 L321.1,295.1 L321.8,298.8 L322.5,300.3 L323.2,301.6 L324.0,300.8 L324.8,301.3 L325.5,302.7 L326.2,303.0 L327.0,305.6 L327.8,303.2 L328.5,305.3 L329.2,305.4 L330.0,304.1 L330.8,307.7 L331.5,307.5 L332.2,305.0 L333.0,309.5 L333.8,310.6 L334.5,308.8 L335.2,313.0 L336.0,311.4 L336.8,310.2 L337.5,313.3 L338.3,312.3 L339.0,311.1 L339.8,310.2 L340.6,313.9 L341.3,312.8 L342.1,315.0 L342.9,314.9 L343.7,313.9 L344.4,314.2 L345.2,317.7 L346.0,317.9 L346.7,316.8 L347.5,315.5 L348.2,315.0 L349.0,316.2 L349.8,319.6 L350.5,318.3 L351.2,317.6 L352.0,316.6 L352.8,319.0 L353.5,317.9 L354.2,319.6 L355.0,321.1 L355.8,321.4 L356.5,320.0 L357.2,319.2 L358.0,319.9 L358.8,322.1 L359.5,319.9 L360.2,317.3 L361.0,321.4 L361.8,319.5 L362.5,322.6 L363.2,318.6 L363.9,319.3 L364.7,319.2 L365.4,320.4 L366.1,319.3 L366.8,318.2 L367.6,317.8 L368.3,320.6 L369.0,320.3 L369.7,319.8 L370.4,323.2 L371.1,320.9 L371.8,321.0 L372.5,318.3 L373.2,317.4 L374.0,315.0 L374.7,311.7 L375.3,308.3 L376.0,305.0 L376.8,296.0 L377.5,287.0 L378.2,296.0 L379.0,305.0 L379.8,310.0 L380.5,314.7 L381.3,315.4 L382.1,317.4 L382.8,317.9 L383.6,318.1 L384.4,318.5 L385.2,316.9 L385.9,318.6 L386.7,320.9 L387.5,320.5 L388.2,319.5 L389.0,320.8 L389.8,318.6 L390.5,318.6 L391.2,320.5 L392.0,318.4 L392.8,320.6 L393.5,318.9 L394.2,319.0 L395.0,319.1 L395.7,312.6 L396.3,313.7 L397.0,310.2 L397.7,308.8 L398.3,306.9 L399.0,304.5 L399.7,308.0 L400.3,311.5 L401.0,315.0 L401.8,318.8 L402.5,324.3 L403.3,322.6 L404.0,325.2 L404.8,322.3 L405.6,323.2 L406.3,323.6 L407.1,325.0 L407.9,323.8 L408.7,323.2 L409.4,323.8 L410.2,322.4 L411.0,326.4 L411.7,325.9 L412.5,325.6 L413.3,325.5 L414.1,324.3 L414.8,324.6 L415.6,326.4 L416.4,324.2 L417.2,324.3 L418.0,327.7 L418.8,327.7 L419.5,326.0 L420.3,326.4 L421.1,326.0 L421.9,327.8 L422.7,325.2 L423.4,326.0 L424.2,326.6 L425.0,328.0 L425.8,325.3 L426.6,325.6 L427.4,324.2 L428.1,323.6 L428.9,323.3 L429.7,324.0 L430.5,324.8 L431.3,322.2 L432.1,321.9 L432.9,321.9 L433.6,322.6 L434.4,322.7 L435.2,319.6 L436.0,321.5 L436.8,319.0 L437.6,320.8 L438.4,317.8 L439.2,317.1 L440.0,317.0 L440.8,317.4 L441.5,315.6 L442.2,316.8 L443.0,316.2 L443.8,315.6 L444.5,315.4 L445.1,317.5 L445.8,316.5 L446.4,318.8 L447.0,320.0 L447.8,317.6 L448.6,321.5 L449.4,320.4 L450.2,321.0 L451.0,321.9 L451.8,322.3 L452.6,322.3 L453.4,322.1 L454.2,320.1 L455.0,321.7 L455.8,321.0 L456.6,319.5 L457.4,319.7 L458.2,320.5 L459.0,319.6 L459.8,320.6 L460.5,320.4 L461.2,322.5 L462.0,324.6 L462.8,322.8 L463.5,320.5 L464.2,325.8 L465.0,323.2 L465.7,320.1 L466.3,316.7 L467.0,318.0 L467.7,315.0 L468.3,312.0 L469.0,309.0 L469.7,312.0 L470.3,315.0 L471.0,318.0 L471.5,322.0 L472.0,326.6 L472.8,327.3 L473.6,327.0 L474.4,324.9 L475.2,327.2 L476.0,324.9 L476.8,324.0 L477.6,324.7 L478.4,324.7 L479.2,324.3 L480.0,324.6 L480.7,319.8 L481.4,323.9 L482.1,319.8 L482.9,320.3 L483.6,317.2 L484.3,317.4 L485.0,315.8 L485.6,312.0 L486.2,313.0 L486.9,311.6 L487.5,309.0 L488.2,312.0 L488.8,315.0 L489.5,318.0 L490.2,321.5 L491.0,323.4 L491.8,322.1 L492.5,324.3 L493.2,324.1 L494.0,325.5 L494.8,325.4 L495.5,327.8 L496.2,326.5 L497.0,325.3 L497.8,326.0 L498.5,322.2 L499.2,324.6 L500.0,324.7 L500.8,325.8 L501.5,326.4 L502.3,326.3 L503.1,327.3 L503.8,325.0 L504.6,326.4 L505.4,325.8 L506.2,326.0 L506.9,326.5 L507.7,325.6 L508.5,326.3 L509.2,326.0 L510.0,327.4 L510.8,325.0 L511.6,324.8 L512.4,327.2 L513.2,323.7 L514.0,322.7 L514.7,322.0 L515.3,317.6 L516.0,318.5 L516.7,320.4 L517.3,321.8 L518.0,324.4 L518.7,325.6 L519.3,327.7 L520.0,326.6 L520.8,327.8 L521.5,326.1 L522.2,328.3 L523.0,326.4 L523.8,324.1 L524.5,325.8 L525.2,323.9 L526.0,326.4 L526.8,323.3 L527.5,319.4 L528.2,320.7 L529.0,321.4 L529.7,321.8 L530.3,321.8 L531.0,324.9 L531.7,326.0 L532.3,328.4 L533.0,328.8 L533.7,327.8 L534.4,326.0 L535.1,327.3 L535.9,327.1 L536.6,326.4 L537.3,326.8 L538.0,324.3 L538.7,326.2 L539.4,324.8 L540.1,324.7 L540.8,323.5 L541.5,322.6 L542.2,324.0 L542.9,325.4 L543.6,324.5 L544.4,326.0 L545.1,325.1 L545.8,327.4 L546.5,327.5 L547.3,325.6 L548.0,328.9 L548.8,325.9 L549.6,327.2 L550.3,325.1 L551.1,324.4 L551.9,327.6 L552.7,324.6 L553.4,323.6 L554.2,326.0 L555.0,324.1 L555.7,325.8 L556.5,328.5 L557.2,325.0 L557.9,325.5 L558.6,325.3 L559.4,324.3 L560.1,323.3 L560.8,325.1 L561.5,322.4 L562.1,321.0 L562.8,318.7 L563.4,314.7 L564.0,314.9 L564.7,317.1 L565.3,320.4 L566.0,323.0 L566.7,325.5 L567.3,322.0 L568.0,325.2 L568.8,325.5 L569.6,325.0 L570.4,326.9 L571.1,326.3 L571.9,326.7 L572.7,324.4 L573.5,325.4 L574.3,326.8 L575.1,326.3 L575.9,326.2 L576.6,327.0 L577.4,326.9 L578.2,325.9 L579.0,329.8 L579.8,326.4 L580.5,328.2 L581.3,328.0 L582.1,328.4 L582.8,326.1 L583.6,325.4 L584.4,327.3 L585.2,326.9 L585.9,323.2 L586.7,322.7 L587.5,325.5 L588.2,325.6 L589.0,325.6 L589.8,326.2 L590.5,323.9 L591.3,328.4 L592.1,325.7 L592.8,325.9 L593.6,324.1 L594.4,320.4 L595.2,323.2 L595.9,321.8 L596.7,322.8 L597.5,321.6 L598.2,322.3 L599.0,319.8 L599.8,319.6 L600.5,319.3 L601.2,317.4 L602.0,317.0 L602.8,317.6 L603.5,318.6 L604.2,314.8 L605.0,315.3 L605.8,311.8 L606.5,311.9 L607.2,312.2 L607.9,311.7 L608.6,308.7 L609.4,310.2 L610.1,308.8 L610.8,309.6 L611.5,308.3 L612.2,308.3 L612.9,307.6 L613.6,309.1 L614.4,308.1 L615.1,308.7 L615.8,307.9 L616.5,309.2 L617.2,310.8 L617.9,314.0 L618.6,315.8 L619.3,315.3 L620.0,318.6 L620.8,320.3 L621.6,322.0 L622.4,321.6 L623.2,323.0 L624.0,323.2 L624.8,325.2 L625.5,321.9 L626.3,324.6 L627.1,321.2 L627.8,327.0 L628.6,326.1 L629.4,322.0 L630.2,324.4 L630.9,323.4 L631.7,323.0 L632.5,325.1 L633.2,324.6 L634.0,327.4 L634.8,325.3 L635.6,324.6 L636.4,326.1 L637.2,326.9 L637.9,327.5 L638.7,327.2 L639.5,324.5 L640.3,325.5 L641.1,326.4 L641.9,325.6 L642.7,327.9 L643.5,326.5 L644.3,326.9 L645.1,326.6 L645.8,327.2 L646.6,325.2 L647.4,330.2 L648.2,326.6 L649.0,326.5 L649.8,325.1 L650.6,327.5 L651.4,325.8 L652.2,328.2 L652.9,329.5 L653.7,328.7 L654.5,327.3 L655.3,329.8 L656.1,327.8 L656.9,328.1 L657.7,328.3 L658.5,327.6 L659.3,328.9 L660.1,326.7 L660.8,326.0 L661.6,330.2 L662.4,327.6 L663.2,328.2 L664.0,329.2 L664.8,328.0 L665.6,327.0 L666.4,328.3 L667.2,327.2 L668.0,329.2 L668.8,327.8 L669.5,328.0 L670.3,329.4 L671.1,326.1 L671.9,326.2 L672.7,329.2 L673.5,329.8 L674.3,328.2 L675.1,327.0 L675.9,329.6 L676.7,328.6 L677.5,329.3 L678.2,325.3 L679.0,327.6 L679.8,326.3 L680.6,326.1 L681.4,328.4 L682.2,328.5 L683.0,326.8" stroke="#f0e41c" stroke-width="1.9"/>
<path d="M43.5,235.1 L44.2,236.4 L45.0,233.0 L45.8,235.4 L46.5,233.3 L47.2,233.0 L48.0,235.7 L48.8,234.0 L49.6,234.5 L50.4,236.4 L51.2,237.8 L52.0,237.0 L52.8,237.2 L53.6,234.4 L54.4,234.7 L55.2,234.0 L56.0,232.1 L56.8,232.3 L57.6,232.5 L58.4,234.9 L59.2,235.4 L60.0,235.6 L60.7,235.2 L61.4,232.4 L62.1,233.3 L62.9,232.9 L63.6,232.8 L64.3,229.7 L65.0,229.4 L65.7,226.3 L66.4,227.6 L67.1,224.4 L67.9,224.6 L68.6,227.3 L69.3,221.8 L70.0,225.1 L70.6,223.5 L71.2,221.6 L71.9,221.6 L72.5,220.7 L73.1,219.5 L73.8,215.7 L74.4,213.2 L75.0,212.0 L75.7,206.3 L76.3,200.7 L77.0,195.0 L77.7,186.7 L78.3,178.3 L79.0,170.0 L79.8,160.0 L80.5,150.0 L81.0,148.0 L81.5,146.0 L82.0,150.5 L82.5,155.0 L83.2,172.5 L84.0,190.0 L84.7,198.3 L85.3,206.7 L86.0,215.0 L86.7,218.3 L87.3,221.7 L88.0,224.2 L88.7,225.3 L89.3,228.3 L90.0,228.9 L90.7,232.2 L91.4,228.8 L92.1,230.6 L92.9,231.5 L93.6,230.6 L94.3,236.9 L95.0,231.6 L95.7,234.9 L96.4,234.8 L97.1,238.2 L97.9,233.4 L98.6,237.9 L99.3,235.7 L100.0,236.8 L100.7,236.3 L101.4,238.5 L102.1,236.3 L102.9,238.0 L103.6,238.9 L104.3,241.3 L105.0,235.6 L105.7,241.0 L106.4,240.0 L107.1,237.9 L107.9,238.9 L108.6,237.6 L109.3,240.4 L110.0,238.3 L110.7,238.1 L111.4,238.5 L112.1,239.0 L112.9,239.5 L113.6,238.9 L114.3,243.5 L115.0,238.3 L115.7,237.5 L116.4,241.1 L117.1,241.2 L117.9,242.1 L118.6,241.4 L119.3,241.6 L120.0,242.5 L120.7,243.4 L121.4,241.4 L122.1,241.5 L122.9,244.7 L123.6,242.7 L124.3,240.6 L125.0,245.3 L125.7,242.7 L126.5,240.4 L127.2,239.2 L128.0,240.8 L128.7,238.8 L129.5,238.1 L130.2,237.4 L131.0,238.1 L131.7,240.0 L132.4,238.3 L133.0,237.4 L133.7,240.9 L134.3,240.6 L135.0,242.2 L135.7,243.0 L136.4,241.3 L137.1,241.7 L137.9,242.1 L138.6,240.8 L139.3,243.7 L140.0,244.9 L140.7,243.0 L141.4,242.1 L142.1,241.8 L142.9,240.8 L143.6,240.4 L144.3,240.7 L145.0,239.8 L145.8,240.4 L146.6,238.8 L147.4,241.5 L148.2,241.1 L149.0,239.4 L149.8,238.2 L150.6,241.8 L151.4,243.7 L152.2,241.6 L153.0,242.3 L153.7,241.6 L154.4,242.8 L155.1,240.0 L155.9,242.1 L156.6,239.7 L157.3,240.9 L158.0,239.0 L158.8,238.2 L159.5,235.9 L160.2,236.5 L161.0,236.6 L161.7,237.3 L162.4,236.2 L163.1,234.3 L163.8,235.3 L164.6,236.2 L165.4,234.6 L166.2,234.3 L167.0,234.4 L167.8,235.6 L168.6,234.8 L169.4,232.2 L170.2,233.5 L171.0,231.8 L171.8,231.5 L172.5,234.4 L173.2,233.9 L174.0,231.8 L174.8,233.0 L175.5,233.7 L176.2,230.5 L176.9,229.7 L177.7,229.2 L178.4,224.2 L179.1,225.9 L179.9,225.2 L180.6,223.6 L181.3,219.7 L182.0,222.0 L182.8,220.4 L183.5,222.4 L184.2,222.4 L184.9,224.6 L185.7,225.9 L186.4,228.8 L187.1,230.9 L187.8,228.5 L188.6,230.5 L189.3,230.6 L190.0,229.6 L190.8,233.3 L191.5,229.9 L192.2,232.7 L193.0,226.8 L193.8,226.0 L194.6,230.1 L195.4,229.2 L196.2,227.5 L197.0,227.4 L197.6,225.3 L198.2,227.6 L198.8,227.5 L199.6,226.4 L200.3,225.7 L200.9,225.7 L201.4,227.4 L202.0,227.0 L202.7,228.4 L203.3,230.2 L204.0,230.6 L204.7,233.4 L205.4,231.0 L206.2,235.4 L206.9,232.0 L207.6,235.5 L208.3,233.1 L209.0,236.7 L209.6,234.8 L210.3,235.4 L211.0,236.0 L211.6,234.2 L212.2,233.7 L212.8,232.5 L213.4,235.4 L214.2,232.2 L215.0,229.0 L215.8,214.5 L216.5,200.0 L217.1,187.5 L217.6,175.0 L218.2,187.5 L218.8,200.0 L219.4,209.7 L219.9,219.3 L220.5,230.7 L221.2,230.4 L221.8,232.8 L222.5,236.0 L223.2,238.4 L223.9,232.8 L224.6,235.1 L225.3,233.8 L226.0,234.7 L226.8,232.2 L227.5,234.9 L228.2,237.4 L229.0,239.2 L229.8,238.5 L230.5,234.3 L231.2,234.8 L232.0,233.8 L232.8,231.6 L233.5,231.0 L234.2,233.6 L235.0,232.3 L235.7,229.8 L236.3,229.7 L237.0,224.6 L237.7,229.1 L238.3,230.7 L239.0,232.9 L239.7,235.2 L240.3,236.2 L241.0,237.9 L241.7,238.1 L242.4,240.6 L243.1,237.7 L243.9,239.8 L244.6,239.4 L245.3,238.3 L246.0,240.1 L246.7,237.1 L247.4,239.2 L248.1,235.7 L248.9,235.5 L249.6,235.9 L250.3,235.9 L251.0,235.3 L251.8,236.0 L252.5,235.2 L253.2,234.9 L254.0,237.8 L254.7,237.2 L255.4,235.3 L256.1,237.8 L256.8,236.5 L257.5,234.7 L258.1,235.6 L258.8,232.1 L259.4,231.8 L260.0,232.6 L260.6,228.6 L261.2,229.6 L261.9,226.4 L262.5,228.0 L263.2,228.5 L264.0,232.3 L264.7,230.9 L265.3,233.5 L266.0,236.3 L266.8,235.1 L267.5,231.4 L268.2,234.8 L269.0,234.2 L269.7,231.9 L270.4,233.8 L271.1,229.7 L271.8,230.5 L272.5,231.6 L273.2,231.3 L273.9,230.8 L274.6,227.0 L275.3,225.5 L276.0,228.0 L276.8,223.6 L277.5,223.6 L278.2,220.1 L279.0,221.5 L279.7,222.0 L280.3,222.4 L281.0,222.5 L281.5,216.2 L282.0,210.0 L282.6,206.0 L283.2,202.0 L283.9,202.3 L284.5,202.1 L285.2,204.3 L286.0,205.3 L286.7,208.1 L287.3,209.4 L288.0,215.2 L288.7,213.7 L289.3,216.1 L290.0,215.0 L290.6,218.1 L291.2,221.2 L291.9,224.4 L292.5,229.4 L293.2,225.5 L294.0,223.6 L294.7,228.8 L295.4,227.5 L296.1,229.1 L296.8,229.6 L297.5,231.2 L298.2,229.8 L299.0,231.9 L299.7,232.4 L300.3,234.0 L301.0,231.7 L301.6,235.6 L302.3,234.5 L303.0,231.1 L303.6,232.0 L304.0,234.0 L304.7,233.2 L305.3,230.7 L306.0,229.0 L306.8,214.5 L307.5,200.0 L308.2,131.7 L308.9,63.3 L309.6,-5.0 L310.3,-5.0 L310.9,-5.0 L311.6,-5.0 L312.2,63.3 L312.9,131.7 L313.5,200.0 L314.2,211.2 L315.0,224.4 L315.8,224.2 L316.5,224.3 L317.2,226.4 L318.0,230.0 L318.5,229.1 L319.0,232.2 L319.7,232.9 L320.4,232.8 L321.0,233.9 L321.7,232.8 L322.1,234.0 L322.5,234.2 L323.1,233.1 L323.8,230.8 L324.4,231.2 L325.0,229.5 L325.6,228.1 L326.2,229.5 L326.9,229.0 L327.5,227.0 L328.2,227.7 L329.0,225.3 L329.7,224.5 L330.3,221.2 L331.0,218.9 L331.8,223.8 L332.5,225.0 L333.2,228.0 L334.0,231.4 L334.7,233.0 L335.4,233.6 L336.1,235.8 L336.8,234.6 L337.5,236.9 L338.1,235.2 L338.8,233.8 L339.4,236.9 L340.0,240.1 L340.7,235.7 L341.4,239.4 L342.1,237.0 L342.9,237.4 L343.6,238.1 L344.3,238.3 L345.0,236.6 L345.7,238.0 L346.4,238.3 L347.1,238.7 L347.9,236.4 L348.6,239.5 L349.3,239.8 L350.0,240.4 L350.8,234.4 L351.5,235.7 L352.2,232.1 L353.0,234.5 L353.7,234.4 L354.3,231.6 L355.0,230.6 L355.7,232.7 L356.3,233.0 L357.0,231.8 L357.8,236.2 L358.5,239.4 L359.1,239.4 L359.8,235.5 L360.4,237.3 L361.0,237.7 L361.8,237.8 L362.5,240.0 L363.2,236.3 L364.0,234.8 L364.7,238.5 L365.4,237.0 L366.1,238.1 L366.8,238.6 L367.5,238.3 L368.1,238.9 L368.8,238.1 L369.4,233.3 L370.0,234.9 L370.6,237.2 L371.2,233.2 L371.9,234.5 L372.5,232.4 L373.1,230.8 L373.8,232.5 L374.4,230.6 L375.0,228.0 L375.8,221.5 L376.5,215.0 L377.2,211.0 L378.0,207.0 L378.8,212.5 L379.5,218.0 L380.2,226.0 L381.0,233.7 L381.8,235.8 L382.5,233.2 L383.2,234.5 L384.0,237.3 L384.7,236.9 L385.4,236.1 L386.1,239.0 L386.8,239.7 L387.5,241.8 L388.2,241.4 L389.0,239.8 L389.8,239.6 L390.5,240.2 L391.2,240.2 L392.0,242.6 L392.8,242.9 L393.5,242.7 L394.2,241.4 L395.0,240.7 L395.8,242.8 L396.5,241.5 L397.2,242.8 L398.0,240.7 L398.8,242.9 L399.5,246.0 L400.2,243.1 L401.0,242.9 L401.8,245.3 L402.5,248.3 L403.2,247.7 L404.0,244.8 L404.8,244.3 L405.5,244.5 L406.2,243.0 L407.0,244.1 L407.8,243.7 L408.6,242.2 L409.4,243.6 L410.1,244.2 L410.9,243.5 L411.7,243.3 L412.5,246.3 L413.3,247.4 L414.1,244.0 L414.9,243.5 L415.6,244.6 L416.4,243.3 L417.2,242.2 L418.0,244.9 L418.8,241.7 L419.6,242.2 L420.3,242.4 L421.1,242.2 L421.9,243.2 L422.7,244.5 L423.4,245.8 L424.2,244.8 L425.0,244.0 L425.7,241.8 L426.4,243.1 L427.1,241.4 L427.9,242.1 L428.6,243.2 L429.3,241.7 L430.0,240.7 L430.7,239.4 L431.4,240.0 L432.1,239.7 L432.9,237.7 L433.6,237.8 L434.3,239.2 L435.0,235.2 L435.7,236.4 L436.4,234.9 L437.1,238.2 L437.9,236.3 L438.6,235.7 L439.3,235.1 L440.0,234.4 L440.7,234.8 L441.4,232.6 L442.1,235.6 L442.9,236.5 L443.6,234.1 L444.3,237.7 L445.0,237.9 L445.7,235.2 L446.4,236.9 L447.1,237.4 L447.9,237.4 L448.6,239.0 L449.3,236.9 L450.0,238.7 L450.7,239.5 L451.4,240.3 L452.1,239.5 L452.9,239.2 L453.6,240.7 L454.3,237.1 L455.0,241.3 L455.8,239.8 L456.5,238.7 L457.2,240.1 L458.0,238.4 L458.8,238.4 L459.5,241.0 L460.2,240.7 L461.0,243.0 L461.8,241.0 L462.5,240.7 L463.2,240.7 L463.9,243.9 L464.6,241.0 L465.3,239.6 L466.0,240.0 L466.8,235.0 L467.5,230.0 L468.2,226.2 L469.0,222.5 L469.8,226.2 L470.5,230.0 L471.2,233.3 L471.8,236.7 L472.5,238.6 L473.2,237.9 L473.9,238.6 L474.6,238.9 L475.4,239.3 L476.1,238.7 L476.8,237.0 L477.5,235.1 L478.2,235.1 L479.0,233.4 L479.8,235.6 L480.5,237.9 L481.2,237.2 L482.0,238.5 L482.8,236.3 L483.6,239.5 L484.4,238.8 L485.1,238.6 L485.9,239.3 L486.7,235.7 L487.5,238.2 L488.3,238.0 L489.1,242.1 L489.9,239.6 L490.6,239.4 L491.4,241.6 L492.2,239.2 L493.0,243.0 L493.8,240.3 L494.6,241.6 L495.3,240.7 L496.1,243.5 L496.9,239.6 L497.7,244.0 L498.4,242.2 L499.2,243.7 L500.0,242.4 L500.7,244.5 L501.4,244.5 L502.1,245.3 L502.9,245.0 L503.6,245.6 L504.3,246.2 L505.0,244.5 L505.7,243.5 L506.4,243.5 L507.1,246.4 L507.9,245.0 L508.6,247.2 L509.3,245.9 L510.0,244.6 L510.8,246.6 L511.6,247.3 L512.4,243.6 L513.2,241.9 L514.0,242.5 L514.5,238.8 L515.0,235.0 L515.5,232.0 L516.0,229.0 L516.8,232.0 L517.5,235.0 L518.2,238.8 L519.0,241.3 L519.8,244.4 L520.5,242.9 L521.2,243.8 L522.0,246.0 L522.8,245.3 L523.5,245.7 L524.2,245.0 L525.0,245.1 L525.6,245.2 L526.2,244.2 L526.9,243.8 L527.5,241.3 L528.2,241.5 L528.8,240.7 L529.5,239.1 L530.2,241.8 L531.0,244.4 L531.7,244.3 L532.3,245.1 L533.0,244.6 L533.7,246.3 L534.4,245.5 L535.1,245.0 L535.8,244.0 L536.5,245.8 L537.1,247.8 L537.8,244.1 L538.4,242.9 L539.0,242.6 L539.7,240.7 L540.3,241.1 L541.0,239.6 L541.7,240.8 L542.3,243.2 L543.0,244.3 L543.7,244.5 L544.3,244.2 L545.0,246.4 L545.7,244.3 L546.4,246.8 L547.1,245.1 L547.9,245.4 L548.6,246.4 L549.3,245.9 L550.0,243.2 L550.8,244.9 L551.6,245.9 L552.4,244.1 L553.2,242.4 L554.0,245.9 L554.8,245.7 L555.5,246.1 L556.2,245.4 L557.0,245.2 L557.8,245.1 L558.5,246.4 L559.2,244.9 L560.0,244.8 L560.7,242.1 L561.3,242.9 L562.0,239.7 L562.7,239.7 L563.3,234.4 L564.0,236.3 L564.7,237.9 L565.3,239.4 L566.0,243.8 L566.7,243.9 L567.3,244.5 L568.0,245.3 L568.8,248.8 L569.5,247.3 L570.3,247.3 L571.1,245.5 L571.9,248.5 L572.6,247.6 L573.4,246.6 L574.2,246.9 L575.0,245.0 L575.7,248.3 L576.5,246.0 L577.3,248.6 L578.1,246.7 L578.8,246.3 L579.6,247.6 L580.4,247.3 L581.2,245.4 L582.0,246.7 L582.8,247.6 L583.5,246.3 L584.3,244.7 L585.1,246.1 L585.9,245.0 L586.7,245.5 L587.4,246.3 L588.2,246.0 L589.0,245.7 L589.8,243.4 L590.5,246.0 L591.2,245.0 L592.0,244.4 L592.8,245.0 L593.5,247.2 L594.2,242.5 L595.0,241.8 L595.7,244.9 L596.4,242.6 L597.2,245.3 L597.9,242.0 L598.6,242.5 L599.3,244.2 L600.1,244.1 L600.8,243.3 L601.5,243.1 L602.2,242.8 L602.9,242.9 L603.6,243.7 L604.3,246.3 L605.0,246.0 L605.8,245.2 L606.6,245.8 L607.4,246.8 L608.2,247.4 L609.0,245.8 L609.7,245.7 L610.4,246.2 L611.1,249.2 L611.9,245.8 L612.6,247.1 L613.3,243.0 L614.0,246.2 L614.8,241.9 L615.5,241.2 L616.2,240.7 L617.0,240.3 L617.7,242.2 L618.3,244.0 L619.0,245.3 L619.6,245.0 L620.2,249.8 L620.9,247.4 L621.5,248.4 L622.3,250.4 L623.1,249.0 L623.8,248.6 L624.6,248.3 L625.4,250.6 L626.2,246.6 L627.0,246.8 L627.8,248.5 L628.5,245.5 L629.3,247.4 L630.1,250.1 L630.9,248.0 L631.7,248.9 L632.4,249.8 L633.2,247.3 L634.0,249.4 L634.8,248.1 L635.6,247.5 L636.4,248.6 L637.2,248.9 L638.0,248.4 L638.8,248.1 L639.6,250.3 L640.4,250.6 L641.2,249.8 L642.0,248.9 L642.8,247.5 L643.5,247.9 L644.3,247.5 L645.1,249.3 L645.9,250.3 L646.7,250.3 L647.5,249.0 L648.3,248.5 L649.1,249.2 L649.9,249.2 L650.7,249.8 L651.5,251.0 L652.3,248.1 L653.1,251.9 L653.9,246.1 L654.7,246.5 L655.5,246.9 L656.3,247.6 L657.1,248.7 L657.9,251.9 L658.7,248.0 L659.5,250.5 L660.2,248.5 L661.0,249.2 L661.8,247.6 L662.6,252.1 L663.4,248.9 L664.2,248.1 L665.0,252.2 L665.8,249.3 L666.6,249.6 L667.4,248.8 L668.2,247.8 L669.0,247.0 L669.8,248.7 L670.6,251.1 L671.3,249.3 L672.1,248.4 L672.9,250.1 L673.7,247.2 L674.4,250.3 L675.2,248.3 L676.0,247.1 L676.8,249.1 L677.6,248.8 L678.3,247.5 L679.1,248.2 L679.9,249.2 L680.7,249.7 L681.4,246.5 L682.2,244.0 L683.0,250.3" stroke="#111111" stroke-width="1.9"/>
<path d="M43.5,272.6 L44.2,273.9 L44.9,273.3 L45.6,275.1 L46.3,276.6 L47.0,276.6 L47.8,279.2 L48.5,276.8 L49.2,279.1 L50.0,279.0 L50.7,279.0 L51.4,280.0 L52.1,280.7 L52.9,281.2 L53.6,281.4 L54.3,284.0 L55.0,282.2 L55.7,278.5 L56.4,280.7 L57.1,279.3 L57.9,279.1 L58.6,281.4 L59.3,279.0 L60.0,276.3 L60.7,280.1 L61.4,280.0 L62.1,279.5 L62.9,280.6 L63.6,281.7 L64.3,283.3 L65.0,283.4 L65.7,283.5 L66.4,285.4 L67.1,281.2 L67.9,280.6 L68.6,280.8 L69.3,282.1 L70.0,279.0 L70.8,282.5 L71.5,279.2 L72.2,280.1 L73.0,281.9 L73.7,278.5 L74.3,276.5 L75.0,275.0 L75.7,266.7 L76.3,258.3 L77.0,250.0 L77.7,236.7 L78.3,223.3 L79.0,210.6 L79.8,208.5 L80.5,205.2 L81.2,207.1 L82.0,210.0 L82.7,223.3 L83.3,236.7 L84.0,250.0 L84.7,258.3 L85.3,266.7 L86.0,275.0 L86.8,278.0 L87.5,282.9 L88.1,282.1 L88.8,281.7 L89.4,284.2 L90.0,281.7 L90.7,283.5 L91.4,284.5 L92.1,283.8 L92.9,283.3 L93.6,284.9 L94.3,284.0 L95.0,284.2 L95.7,283.3 L96.4,286.3 L97.1,283.4 L97.9,285.5 L98.6,284.1 L99.3,282.9 L100.0,283.9 L100.7,283.8 L101.4,284.0 L102.1,282.4 L102.9,284.8 L103.6,286.4 L104.3,286.3 L105.0,287.4 L105.7,287.8 L106.4,286.0 L107.1,287.9 L107.9,282.7 L108.6,284.2 L109.3,280.8 L110.0,285.1 L110.7,284.4 L111.4,286.9 L112.1,284.3 L112.9,282.3 L113.6,287.2 L114.3,283.8 L115.0,284.2 L115.7,285.6 L116.4,286.6 L117.1,284.9 L117.9,285.7 L118.6,282.7 L119.3,287.6 L120.0,284.9 L120.7,285.5 L121.4,286.4 L122.1,286.1 L122.9,286.4 L123.6,285.1 L124.3,286.6 L125.0,287.6 L125.7,288.0 L126.4,286.0 L127.1,285.8 L127.9,285.8 L128.6,285.7 L129.3,284.7 L130.0,283.6 L130.7,283.6 L131.4,286.1 L132.1,285.3 L132.9,285.2 L133.6,289.0 L134.3,287.0 L135.0,287.2 L135.7,285.8 L136.4,283.7 L137.1,286.3 L137.9,284.2 L138.6,283.9 L139.3,284.9 L140.0,284.4 L140.7,282.8 L141.4,281.9 L142.1,284.2 L142.9,281.5 L143.6,278.7 L144.3,280.6 L145.0,279.2 L145.7,278.5 L146.4,278.8 L147.1,277.6 L147.9,279.5 L148.6,276.4 L149.3,275.9 L150.0,276.6 L150.7,273.5 L151.4,275.0 L152.1,272.8 L152.9,273.8 L153.6,270.2 L154.3,271.3 L155.0,267.8 L155.8,268.1 L156.5,267.5 L157.2,266.9 L158.0,267.8 L158.7,266.7 L159.3,261.5 L160.0,262.5 L160.6,256.9 L161.2,251.2 L161.9,245.6 L162.5,240.0 L163.2,233.3 L163.8,226.7 L164.5,220.0 L165.2,210.0 L165.8,200.0 L166.6,185.0 L167.3,170.0 L167.9,165.0 L168.4,160.0 L168.9,165.0 L169.5,170.0 L170.2,185.0 L171.0,200.0 L171.8,210.0 L172.5,220.0 L173.2,230.0 L174.0,240.0 L174.5,250.0 L175.0,258.9 L175.7,263.4 L176.3,263.9 L177.0,263.1 L177.7,267.3 L178.3,266.8 L179.0,270.0 L179.5,272.5 L180.0,273.8 L180.7,274.0 L181.4,276.1 L182.1,280.3 L182.9,278.4 L183.6,278.4 L184.3,282.8 L185.0,279.4 L185.7,280.4 L186.4,280.8 L187.1,282.3 L187.9,281.9 L188.6,284.9 L189.3,283.0 L190.0,284.8 L190.7,284.2 L191.4,282.5 L192.1,282.2 L192.9,283.4 L193.6,280.1 L194.3,283.2 L195.0,283.1 L195.8,282.0 L196.5,280.4 L197.2,279.7 L198.0,278.0 L198.7,275.3 L199.3,272.7 L200.0,270.0 L200.5,268.0 L201.0,266.0 L201.8,269.0 L202.5,271.5 L203.1,274.6 L203.8,273.2 L204.4,278.5 L205.0,277.8 L205.8,280.2 L206.5,279.4 L207.2,279.9 L208.0,279.9 L208.8,283.3 L209.5,280.2 L210.2,280.4 L211.0,282.8 L211.8,281.6 L212.5,280.0 L213.1,277.5 L213.8,275.0 L214.4,272.5 L215.0,270.0 L215.7,235.0 L216.3,200.0 L216.9,164.0 L217.4,128.0 L218.0,164.0 L218.6,200.0 L219.3,235.0 L220.0,270.0 L220.5,276.2 L221.0,282.6 L221.8,281.7 L222.6,282.6 L223.4,285.3 L224.2,283.1 L225.0,285.9 L225.7,285.9 L226.4,284.9 L227.1,282.9 L227.9,287.1 L228.6,284.5 L229.3,284.4 L230.0,283.5 L230.7,283.0 L231.4,284.2 L232.1,285.1 L232.9,284.0 L233.6,285.6 L234.3,287.3 L235.0,286.6 L235.7,285.4 L236.4,286.6 L237.1,286.0 L237.9,285.5 L238.6,282.8 L239.3,280.9 L240.0,284.1 L240.7,283.4 L241.4,283.1 L242.1,284.5 L242.9,283.5 L243.6,283.6 L244.3,287.2 L245.0,282.8 L245.7,285.3 L246.4,284.7 L247.1,284.9 L247.9,281.9 L248.6,281.4 L249.3,278.6 L250.0,279.0 L250.7,276.6 L251.4,279.4 L252.1,280.7 L252.9,281.1 L253.6,281.2 L254.3,284.1 L255.0,280.8 L255.7,282.9 L256.4,281.9 L257.1,282.2 L257.9,281.9 L258.6,284.3 L259.3,279.8 L260.0,282.9 L260.7,282.5 L261.4,280.0 L262.1,278.9 L262.9,277.6 L263.6,277.7 L264.3,281.3 L265.0,275.0 L265.6,278.5 L266.2,276.8 L266.9,280.3 L267.5,277.9 L268.2,275.5 L269.0,276.6 L269.8,277.5 L270.5,277.3 L271.2,275.8 L272.0,276.6 L272.8,276.2 L273.6,277.3 L274.4,276.8 L275.2,276.5 L276.0,275.2 L276.8,276.2 L277.5,273.5 L278.2,272.2 L279.0,272.5 L279.8,266.2 L280.5,260.0 L281.2,253.3 L281.8,246.7 L282.5,240.0 L283.2,245.0 L284.0,250.0 L284.7,255.0 L285.3,260.0 L286.0,264.4 L286.8,263.9 L287.5,263.3 L288.2,260.4 L289.0,264.4 L289.7,265.9 L290.3,269.3 L291.0,269.5 L291.7,270.7 L292.4,269.6 L293.1,269.0 L293.9,271.1 L294.6,267.4 L295.3,268.7 L296.0,265.1 L296.7,266.9 L297.4,264.4 L298.1,261.8 L298.9,261.0 L299.6,257.4 L300.3,257.5 L301.0,257.5 L301.8,253.1 L302.5,248.8 L303.2,244.4 L304.0,240.0 L304.7,233.3 L305.3,226.7 L306.0,220.0 L306.5,213.3 L307.1,206.7 L307.6,200.0 L308.1,160.0 L308.6,120.0 L309.3,-5.0 L310.0,-5.0 L310.8,-5.0 L311.5,-5.0 L312.2,-5.0 L312.7,57.5 L313.2,120.0 L313.9,150.0 L314.5,180.0 L315.2,190.0 L316.0,200.0 L316.8,205.0 L317.5,210.0 L318.2,215.0 L319.0,220.0 L319.7,224.0 L320.4,228.0 L321.1,232.0 L321.8,236.0 L322.5,240.2 L323.2,238.5 L323.9,245.8 L324.6,247.8 L325.4,247.5 L326.1,248.6 L326.8,250.9 L327.5,253.2 L328.2,255.4 L328.9,260.9 L329.6,257.7 L330.4,261.8 L331.1,263.9 L331.8,262.3 L332.5,264.6 L333.2,266.5 L334.0,265.3 L334.8,268.5 L335.5,270.4 L336.2,267.9 L337.0,267.5 L337.8,270.0 L338.5,270.3 L339.2,269.4 L340.0,270.8 L340.8,271.5 L341.5,272.5 L342.2,273.8 L343.0,271.9 L343.8,271.2 L344.5,271.1 L345.2,276.4 L346.0,273.6 L346.8,274.0 L347.5,278.4 L348.2,276.7 L349.0,278.3 L349.8,275.1 L350.5,274.4 L351.2,274.8 L352.0,276.5 L352.8,276.3 L353.5,276.4 L354.2,279.1 L355.0,277.9 L355.8,274.1 L356.5,275.9 L357.2,275.8 L358.0,273.6 L358.8,277.5 L359.5,275.2 L360.2,275.7 L361.0,272.5 L361.8,271.3 L362.5,273.6 L363.2,272.9 L363.9,273.1 L364.6,274.5 L365.3,275.6 L366.0,276.2 L366.8,276.3 L367.6,277.9 L368.4,281.4 L369.2,280.0 L370.0,278.3 L370.8,280.1 L371.6,274.7 L372.4,271.4 L373.2,269.9 L374.0,267.1 L374.8,269.1 L375.5,263.5 L376.2,261.0 L376.8,260.2 L377.5,259.0 L378.2,262.0 L379.0,265.0 L379.8,270.0 L380.5,274.7 L381.2,273.7 L382.0,275.0 L382.8,276.2 L383.5,277.6 L384.2,275.7 L385.0,278.3 L385.8,278.1 L386.5,278.8 L387.2,277.5 L388.0,276.9 L388.8,280.1 L389.5,279.8 L390.2,278.3 L391.0,278.4 L391.8,280.7 L392.5,282.8 L393.2,280.1 L393.9,282.7 L394.6,279.2 L395.3,278.9 L396.0,278.7 L396.8,278.5 L397.5,273.9 L398.2,275.2 L399.0,275.8 L399.7,273.1 L400.3,277.0 L401.0,279.0 L401.8,282.7 L402.5,284.7 L403.2,282.7 L404.0,285.9 L404.8,281.7 L405.5,281.5 L406.2,285.6 L407.0,284.9 L407.8,282.6 L408.5,286.0 L409.2,286.0 L410.0,286.0 L410.8,284.4 L411.5,283.2 L412.3,282.6 L413.1,284.7 L413.8,284.8 L414.6,284.3 L415.4,284.2 L416.2,286.3 L416.9,283.4 L417.7,283.9 L418.5,287.8 L419.2,284.1 L420.0,284.1 L420.8,286.6 L421.6,282.6 L422.3,287.5 L423.1,283.4 L423.9,284.1 L424.7,283.6 L425.5,284.1 L426.2,284.5 L427.0,286.9 L427.8,285.5 L428.6,287.6 L429.4,286.8 L430.2,284.1 L430.9,285.9 L431.7,285.1 L432.5,285.4 L433.2,285.6 L433.9,285.4 L434.7,284.9 L435.4,280.8 L436.1,283.0 L436.8,282.0 L437.6,284.7 L438.3,281.2 L439.0,280.9 L439.7,280.1 L440.4,280.4 L441.1,276.8 L441.9,277.4 L442.6,276.5 L443.3,275.8 L444.0,274.6 L444.8,275.5 L445.5,277.6 L446.2,276.9 L447.0,282.3 L447.8,280.6 L448.5,278.7 L449.2,281.5 L450.0,283.8 L450.8,281.9 L451.5,281.6 L452.2,278.2 L453.0,283.1 L453.8,280.8 L454.5,277.6 L455.2,279.4 L456.0,281.7 L456.8,279.9 L457.5,276.9 L458.2,278.8 L458.9,280.4 L459.7,283.6 L460.4,281.6 L461.1,282.8 L461.8,281.9 L462.6,282.9 L463.3,282.0 L464.0,284.0 L464.8,280.5 L465.5,277.0 L466.2,273.5 L467.0,270.0 L467.7,263.7 L468.3,257.3 L469.0,251.0 L469.7,257.3 L470.3,263.7 L471.0,270.0 L471.5,278.0 L472.0,284.1 L472.8,284.0 L473.6,285.0 L474.4,287.5 L475.2,285.5 L476.0,287.2 L476.8,286.5 L477.6,285.5 L478.4,284.5 L479.2,288.1 L480.0,286.6 L480.8,286.5 L481.5,288.0 L482.2,286.4 L483.0,284.3 L483.8,284.3 L484.5,284.3 L485.2,286.4 L486.0,281.6 L486.8,280.2 L487.5,281.8 L488.2,283.2 L489.0,283.0 L489.8,285.8 L490.5,285.9 L491.2,285.7 L492.0,286.5 L492.8,289.7 L493.5,290.5 L494.2,290.8 L495.0,288.5 L495.8,290.8 L496.6,287.5 L497.3,286.6 L498.1,291.7 L498.9,290.6 L499.7,290.3 L500.5,291.4 L501.2,291.9 L502.0,290.0 L502.8,290.0 L503.6,290.6 L504.4,291.0 L505.2,290.1 L505.9,288.0 L506.7,293.5 L507.5,289.0 L508.2,288.8 L508.9,290.1 L509.6,288.9 L510.4,289.3 L511.1,291.6 L511.8,289.9 L512.5,286.9 L513.2,285.2 L514.0,282.0 L514.7,278.8 L515.3,275.7 L516.0,272.5 L516.7,275.7 L517.3,278.8 L518.0,281.9 L518.5,285.3 L519.0,283.8 L519.8,283.8 L520.5,282.9 L521.2,286.1 L522.0,286.1 L522.8,286.7 L523.5,287.0 L524.2,284.2 L525.0,285.5 L525.7,282.5 L526.3,283.8 L527.0,281.2 L527.7,276.2 L528.3,277.1 L529.0,274.7 L529.7,277.2 L530.3,280.5 L531.0,282.0 L531.5,284.0 L532.0,285.2 L532.8,285.9 L533.6,285.8 L534.3,286.1 L535.1,285.9 L535.9,289.3 L536.7,288.9 L537.4,288.0 L538.2,286.4 L539.0,292.2 L539.8,289.0 L540.6,289.1 L541.3,289.7 L542.1,291.1 L542.9,288.1 L543.7,285.2 L544.5,287.9 L545.2,288.3 L546.0,287.4 L546.8,290.2 L547.6,287.4 L548.4,288.4 L549.2,286.7 L549.9,288.8 L550.7,286.7 L551.5,288.7 L552.3,287.5 L553.0,287.3 L553.8,287.3 L554.6,284.4 L555.4,285.8 L556.1,286.5 L556.9,285.4 L557.7,287.4 L558.5,286.7 L559.2,284.2 L560.0,285.0 L560.7,280.7 L561.3,276.3 L562.0,272.0 L562.8,266.5 L563.5,261.0 L564.2,266.5 L565.0,272.0 L565.8,278.5 L566.5,286.7 L567.3,284.9 L568.0,286.2 L568.8,287.3 L569.6,284.2 L570.3,284.8 L571.1,286.1 L571.9,286.0 L572.7,284.2 L573.4,287.7 L574.2,287.2 L575.0,287.4 L575.7,287.8 L576.5,288.5 L577.3,286.3 L578.1,287.8 L578.8,286.7 L579.6,286.5 L580.4,285.8 L581.2,288.7 L582.0,283.4 L582.8,285.8 L583.5,287.7 L584.3,286.1 L585.1,285.6 L585.9,287.9 L586.7,285.0 L587.4,285.8 L588.2,286.7 L589.0,285.3 L589.8,285.0 L590.5,285.4 L591.2,286.3 L592.0,283.3 L592.8,285.0 L593.5,283.8 L594.2,283.1 L595.0,281.4 L595.8,285.3 L596.5,283.3 L597.3,282.3 L598.1,280.8 L598.8,282.9 L599.6,279.1 L600.4,278.0 L601.2,277.7 L602.0,278.1 L602.8,278.0 L603.5,273.3 L604.2,275.1 L604.9,273.6 L605.6,273.3 L606.3,269.9 L607.0,271.0 L607.8,270.3 L608.4,264.5 L609.0,262.6 L609.7,262.0 L610.4,260.0 L611.0,256.0 L611.8,258.6 L612.5,255.8 L613.2,260.3 L614.0,260.7 L614.6,261.3 L615.2,260.7 L615.9,261.0 L616.5,259.4 L617.2,264.5 L617.9,262.1 L618.6,267.9 L619.3,269.1 L620.0,275.3 L620.7,272.4 L621.4,275.6 L622.1,276.8 L622.9,279.4 L623.6,279.7 L624.3,279.6 L625.0,282.3 L625.8,284.5 L626.5,284.2 L627.2,282.4 L628.0,281.9 L628.8,282.2 L629.5,284.1 L630.2,284.4 L631.0,284.4 L631.8,284.4 L632.5,285.7 L633.2,287.6 L634.0,287.4 L634.8,285.5 L635.6,287.3 L636.3,286.0 L637.1,288.2 L637.9,287.9 L638.7,287.9 L639.5,289.8 L640.2,288.2 L641.0,288.2 L641.8,288.9 L642.6,285.6 L643.4,286.7 L644.2,286.8 L644.9,288.6 L645.7,287.5 L646.5,285.8 L647.3,286.5 L648.1,287.4 L648.9,287.1 L649.7,287.2 L650.5,285.8 L651.3,288.1 L652.1,286.2 L652.9,287.5 L653.7,287.3 L654.5,287.8 L655.2,290.3 L656.0,287.8 L656.8,287.9 L657.6,285.0 L658.4,287.3 L659.2,289.0 L660.0,288.3 L660.8,289.9 L661.6,288.4 L662.4,290.0 L663.2,289.3 L664.0,290.6 L664.8,288.7 L665.6,290.4 L666.4,288.5 L667.2,288.1 L668.0,290.8 L668.8,287.4 L669.5,288.0 L670.3,291.7 L671.1,289.7 L671.9,290.0 L672.7,289.8 L673.5,289.5 L674.3,292.4 L675.1,289.7 L675.9,291.7 L676.7,289.7 L677.5,288.8 L678.2,289.4 L679.0,289.9 L679.8,293.4 L680.6,289.1 L681.4,290.6 L682.2,287.8 L683.0,290.8" stroke="#888888" stroke-width="1.9"/>
<defs><linearGradient id="qg" x1="0" y1="0" x2="0" y2="1"><stop offset="0" stop-color="#e6dc36"/><stop offset="0.35" stop-color="#ebe13c"/><stop offset="0.55" stop-color="#f3ec80"/><stop offset="1" stop-color="#f6f19a"/></linearGradient></defs>
<polygon points="307.6,245 308.0,-2 313.2,-2 313.6,245" fill="url(#qg)" stroke="#a09530" stroke-width="0.6"/>
<path d="M305,290 L306,280 L307.6,200 L308.7,-5 M312.5,-5 L313.8,200 L315,272.5 L316,285" stroke="#f0e41c" stroke-width="1.7"/>
<polygon points="124.4,244.6 130.0,243.6 142.0,242.2 150.0,241.2 161.0,239.5 171.8,236.8 185.0,235.8 200.0,236.0 217.7,236.8 222.0,237.5 236.5,240.3 248.0,240.3 258.4,238.2 266.0,236.6 270.0,235.0 280.3,232.2 290.5,231.7 300.0,233.0 305.0,234.3 322.0,234.8 332.0,236.0 340.3,240.1 350.4,241.8 365.5,241.0 375.6,239.8 382.3,240.1 389.0,241.8 394.0,245.2 124.4,245.2" fill="#e0409f" fill-opacity="0.72" stroke="none"/>
<line x1="161.8" y1="155.4" x2="396" y2="160.5" stroke="#8ccbea" stroke-width="1.1" stroke-opacity="0.9"/>
<line x1="166.9" y1="200.2" x2="395" y2="203" stroke="#8ccbea" stroke-width="1.1" stroke-opacity="0.9"/>
<line x1="122" y1="284" x2="401" y2="284.3" stroke="#8ccbea" stroke-width="1.1" stroke-opacity="0.9"/>
<line x1="125" y1="322.7" x2="406" y2="325.3" stroke="#8ccbea" stroke-width="1.1" stroke-opacity="0.9"/>
</g>
<path d="M43.75,0.8 H684 V360.7 H43.75 Z" fill="none" stroke="#111" stroke-width="2"/>
<line x1="123.90" y1="348" x2="123.90" y2="360.7" stroke="#111" stroke-width="1.8"/>
<line x1="203.90" y1="348" x2="203.90" y2="360.7" stroke="#111" stroke-width="1.8"/>
<line x1="283.90" y1="348" x2="283.90" y2="360.7" stroke="#111" stroke-width="1.8"/>
<line x1="363.90" y1="348" x2="363.90" y2="360.7" stroke="#111" stroke-width="1.8"/>
<line x1="443.90" y1="348" x2="443.90" y2="360.7" stroke="#111" stroke-width="1.8"/>
<line x1="523.90" y1="348" x2="523.90" y2="360.7" stroke="#111" stroke-width="1.8"/>
<line x1="603.90" y1="348" x2="603.90" y2="360.7" stroke="#111" stroke-width="1.8"/>
<text x="527.40" y="147.5" font-family="Liberation Sans, sans-serif" font-size="16" textLength="150.60" lengthAdjust="spacingAndGlyphs" fill="#111">Green schist (FZ11)</text>
<text x="485.40" y="188.6" font-family="Liberation Sans, sans-serif" font-size="16" textLength="193.21" lengthAdjust="spacingAndGlyphs" fill="#111">Gray-green gouge (FZ07)</text>
<text x="531.00" y="232.3" font-family="Liberation Sans, sans-serif" font-size="16" textLength="149.41" lengthAdjust="spacingAndGlyphs" fill="#111">Black gouge (FZ06)</text>
<text x="527.80" y="308.3" font-family="Liberation Sans, sans-serif" font-size="16" textLength="151.70" lengthAdjust="spacingAndGlyphs" fill="#111">Gray breccia (FZ05)</text>
<text x="538.60" y="343.8" font-family="Liberation Sans, sans-serif" font-size="16" textLength="139.60" lengthAdjust="spacingAndGlyphs" fill="#111">Cataclasite (FZ02)</text>
<text x="192.40" y="381.6" font-family="Liberation Sans, sans-serif" font-size="18" textLength="21.16" lengthAdjust="spacingAndGlyphs" fill="#111">20</text>
<text x="352.40" y="381.8" font-family="Liberation Sans, sans-serif" font-size="18" textLength="21.16" lengthAdjust="spacingAndGlyphs" fill="#111">30</text>
<text x="512.60" y="381.6" font-family="Liberation Sans, sans-serif" font-size="18" textLength="20.94" lengthAdjust="spacingAndGlyphs" fill="#111">40</text>
<text x="277.40" y="410.8" font-family="Liberation Sans, sans-serif" font-size="22" textLength="160.41" lengthAdjust="spacingAndGlyphs" fill="#111">2 theta (degree)</text>
<text transform="translate(19.3,233.50) rotate(-90)" font-family="Liberation Sans, sans-serif" font-size="22" textLength="85.08" lengthAdjust="spacingAndGlyphs" fill="#111">Intensity</text>
<text transform="translate(15.9,53.90) rotate(-90)" font-family="Liberation Sans, sans-serif" font-size="13.5" textLength="50.87" lengthAdjust="spacingAndGlyphs" fill="#111">200 cps</text>
<line x1="30.7" y1="4" x2="30.7" y2="52.3" stroke="#111" stroke-width="3.6" stroke-linecap="round"/>
</svg>
</body></html>
